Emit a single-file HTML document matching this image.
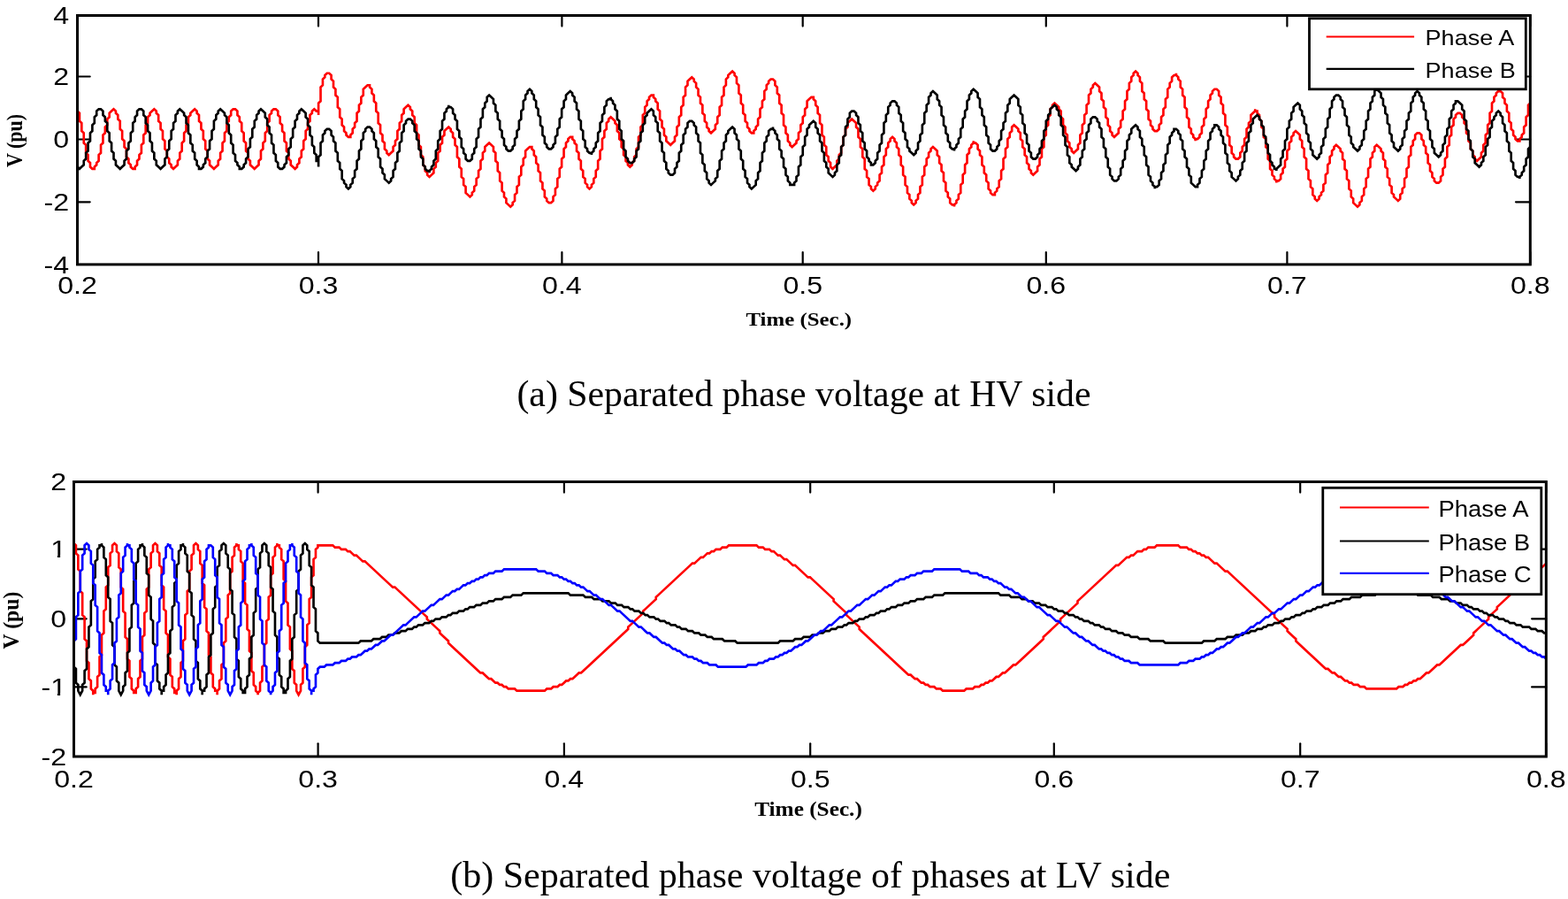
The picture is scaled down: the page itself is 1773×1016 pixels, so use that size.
<!DOCTYPE html>
<html><head><meta charset="utf-8"><title>Separated phase voltage</title><style>html,body{margin:0;padding:0;background:#fff;overflow:hidden}svg{display:block}</style></head><body>
<svg width="1773" height="1016" viewBox="0 0 1773 1016">
<rect width="1773" height="1016" fill="#fff"/>
<g stroke="#000" stroke-width="2.2" stroke-linecap="round"><line x1="87.5" y1="298.9" x2="87.5" y2="285.00"/><line x1="87.5" y1="17.5" x2="87.5" y2="29.60"/><line x1="360.0" y1="298.9" x2="360.0" y2="285.00"/><line x1="360.0" y1="17.5" x2="360.0" y2="29.60"/><line x1="635.4" y1="298.9" x2="635.4" y2="285.00"/><line x1="635.4" y1="17.5" x2="635.4" y2="29.60"/><line x1="907.7" y1="298.9" x2="907.7" y2="285.00"/><line x1="907.7" y1="17.5" x2="907.7" y2="29.60"/><line x1="1182.8" y1="298.9" x2="1182.8" y2="285.00"/><line x1="1182.8" y1="17.5" x2="1182.8" y2="29.60"/><line x1="1455.4" y1="298.9" x2="1455.4" y2="285.00"/><line x1="1455.4" y1="17.5" x2="1455.4" y2="29.60"/><line x1="1730.3" y1="298.9" x2="1730.3" y2="285.00"/><line x1="1730.3" y1="17.5" x2="1730.3" y2="29.60"/><line x1="87.5" y1="86.5" x2="101.70" y2="86.5"/><line x1="1730.3" y1="86.5" x2="1714.00" y2="86.5"/><line x1="87.5" y1="157.5" x2="101.70" y2="157.5"/><line x1="1730.3" y1="157.5" x2="1714.00" y2="157.5"/><line x1="87.5" y1="228.3" x2="101.70" y2="228.3"/><line x1="1730.3" y1="228.3" x2="1714.00" y2="228.3"/></g>
<g stroke="#000" stroke-width="2.2" stroke-linecap="round"><line x1="83.5" y1="855.0" x2="83.5" y2="840.30"/><line x1="83.5" y1="544.5" x2="83.5" y2="556.60"/><line x1="359.6" y1="855.0" x2="359.6" y2="840.30"/><line x1="359.6" y1="544.5" x2="359.6" y2="556.60"/><line x1="637.9" y1="855.0" x2="637.9" y2="840.30"/><line x1="637.9" y1="544.5" x2="637.9" y2="556.60"/><line x1="916.2" y1="855.0" x2="916.2" y2="840.30"/><line x1="916.2" y1="544.5" x2="916.2" y2="556.60"/><line x1="1191.8" y1="855.0" x2="1191.8" y2="840.30"/><line x1="1191.8" y1="544.5" x2="1191.8" y2="556.60"/><line x1="1470.2" y1="855.0" x2="1470.2" y2="840.30"/><line x1="1470.2" y1="544.5" x2="1470.2" y2="556.60"/><line x1="1748.3" y1="855.0" x2="1748.3" y2="840.30"/><line x1="1748.3" y1="544.5" x2="1748.3" y2="556.60"/><line x1="83.5" y1="620.6" x2="97.70" y2="620.6"/><line x1="1748.3" y1="620.6" x2="1732.10" y2="620.6"/><line x1="83.5" y1="699.3" x2="97.70" y2="699.3"/><line x1="1748.3" y1="699.3" x2="1732.10" y2="699.3"/><line x1="83.5" y1="776.4" x2="97.70" y2="776.4"/><line x1="1748.3" y1="776.4" x2="1732.10" y2="776.4"/></g>
<clipPath id="ct"><rect x="86.1" y="17.5" width="1644.20" height="281.40"/></clipPath>
<clipPath id="cb"><rect x="82.1" y="544.5" width="1666.20" height="310.50"/></clipPath>
<g clip-path="url(#ct)" fill="none" stroke-width="2.65" stroke-linejoin="miter" stroke-miterlimit="3">
<path stroke="#ff0000" d="M85.09 114.30 L85.09 116.55 L87.50 118.80 L87.50 125.56 L89.91 127.81 L89.91 136.81 L92.33 139.06 L92.33 148.07 L94.74 150.32 L94.74 161.58 L97.15 163.83 L97.15 172.83 L99.56 175.08 L99.56 181.84 L101.98 184.09 L101.98 188.59 L104.39 190.84 L106.80 190.84 L106.80 188.59 L109.21 186.34 L109.21 184.09 L111.62 181.84 L111.62 175.08 L114.04 172.83 L114.04 163.83 L116.45 161.58 L116.45 152.57 L118.86 150.32 L118.86 143.57 L121.28 141.32 L121.28 134.56 L123.69 132.31 L123.69 127.81 L126.10 125.56 L128.51 123.31 L130.93 125.56 L130.93 127.81 L133.34 130.06 L133.34 134.56 L135.75 136.81 L135.75 145.82 L138.16 148.07 L138.16 157.07 L140.57 159.33 L140.57 166.08 L142.99 168.33 L142.99 177.34 L145.40 179.59 L145.40 184.09 L147.81 186.34 L147.81 188.59 L150.23 190.84 L152.64 190.84 L152.64 188.59 L155.05 186.34 L155.05 181.84 L157.46 179.59 L157.46 175.08 L159.88 172.83 L159.88 163.83 L162.29 161.58 L162.29 152.57 L164.70 150.32 L164.70 141.32 L167.11 139.06 L167.11 132.31 L169.53 130.06 L169.53 127.81 L171.94 125.56 L174.35 123.31 L176.76 125.56 L176.76 127.81 L179.18 130.06 L179.18 136.81 L181.59 139.06 L181.59 145.82 L184.00 148.07 L184.00 157.07 L186.41 159.33 L186.41 168.33 L188.82 170.58 L188.82 177.34 L191.24 179.59 L191.24 184.09 L193.65 186.34 L193.65 188.59 L196.06 190.84 L198.48 188.59 L200.89 186.34 L200.89 181.84 L203.30 179.59 L203.30 172.83 L205.71 170.58 L205.71 161.58 L208.12 159.33 L208.12 150.32 L210.54 148.07 L210.54 141.32 L212.95 139.06 L212.95 132.31 L215.36 130.06 L215.36 127.81 L217.78 125.56 L220.19 123.31 L222.60 125.56 L222.60 127.81 L225.01 130.06 L225.01 136.81 L227.43 139.06 L227.43 145.82 L229.84 148.07 L229.84 157.07 L232.25 159.33 L232.25 168.33 L234.66 170.58 L234.66 179.59 L237.07 181.84 L237.07 186.34 L239.49 188.59 L241.90 190.84 L244.31 188.59 L246.73 186.34 L246.73 181.84 L249.14 179.59 L249.14 172.83 L251.55 170.58 L251.55 161.58 L253.96 159.33 L253.96 150.32 L256.38 148.07 L256.38 139.06 L258.79 136.81 L258.79 132.31 L261.20 130.06 L261.20 125.56 L263.61 123.31 L266.03 123.31 L268.44 125.56 L268.44 130.06 L270.85 132.31 L270.85 136.81 L273.26 139.06 L273.26 148.07 L275.68 150.32 L275.68 159.33 L278.09 161.58 L278.09 170.58 L280.50 172.83 L280.50 179.59 L282.91 181.84 L282.91 186.34 L285.32 188.59 L287.74 190.84 L290.15 188.59 L292.56 186.34 L292.56 181.84 L294.98 179.59 L294.98 170.58 L297.39 168.33 L297.39 161.58 L299.80 159.33 L299.80 150.32 L302.21 148.07 L302.21 139.06 L304.62 136.81 L304.62 130.06 L307.04 127.81 L307.04 125.56 L309.45 123.31 L311.86 123.31 L314.28 125.56 L314.28 130.06 L316.69 132.31 L316.69 139.06 L319.10 141.32 L319.10 148.07 L321.51 150.32 L321.51 159.33 L323.93 161.58 L323.93 170.58 L326.34 172.83 L326.34 179.59 L328.75 181.84 L328.75 186.34 L331.16 188.59 L333.57 190.84 L335.99 188.59 L335.99 186.34 L338.40 184.09 L338.40 179.59 L340.81 177.34 L340.81 170.58 L343.23 168.33 L343.23 159.33 L345.64 157.07 L345.64 148.07 L348.05 145.82 L348.05 139.06 L350.46 136.81 L350.46 130.06 L352.88 127.81 L352.88 125.56 L355.29 123.31 L357.70 125.56 L360.11 125.56 L360.11 130.06 L360.11 116.55 L362.52 114.30 L362.52 98.54 L364.94 96.29 L364.94 89.54 L367.35 87.29 L367.35 85.04 L369.76 82.78 L372.18 82.78 L374.59 85.04 L374.59 89.54 L377.00 91.79 L377.00 98.54 L379.41 100.79 L379.41 107.55 L381.82 109.80 L381.82 121.06 L384.24 123.31 L384.24 132.31 L386.65 134.56 L386.65 141.32 L389.06 143.57 L389.06 148.07 L391.48 150.32 L391.48 152.57 L393.89 154.82 L396.30 154.82 L396.30 152.57 L398.71 150.32 L398.71 145.82 L401.12 143.57 L401.12 139.06 L403.54 136.81 L403.54 127.81 L405.95 125.56 L405.95 118.80 L408.36 116.55 L408.36 109.80 L410.77 107.55 L410.77 100.79 L413.19 98.54 L415.60 96.29 L418.01 96.29 L418.01 98.54 L420.43 100.79 L420.43 105.30 L422.84 107.55 L422.84 114.30 L425.25 116.55 L425.25 125.56 L427.66 127.81 L427.66 139.06 L430.07 141.32 L430.07 150.32 L432.49 152.57 L432.49 159.33 L434.90 161.58 L434.90 168.33 L437.31 170.58 L437.31 172.83 L439.73 175.08 L442.14 172.83 L444.55 170.58 L444.55 166.08 L446.96 163.83 L446.96 159.33 L449.38 157.07 L449.38 148.07 L451.79 145.82 L451.79 139.06 L454.20 136.81 L454.20 130.06 L456.61 127.81 L456.61 123.31 L459.02 121.06 L461.44 118.80 L463.85 121.06 L463.85 123.31 L466.26 125.56 L466.26 130.06 L468.68 132.31 L468.68 139.06 L471.09 141.32 L471.09 150.32 L473.50 152.57 L473.50 163.83 L475.91 166.08 L475.91 175.08 L478.32 177.34 L478.32 186.34 L480.74 188.59 L480.74 193.09 L483.15 195.34 L483.15 197.60 L485.56 199.85 L487.98 197.60 L490.39 195.34 L490.39 190.84 L492.80 188.59 L492.80 184.09 L495.21 181.84 L495.21 172.83 L497.62 170.58 L497.62 163.83 L500.04 161.58 L500.04 154.82 L502.45 152.57 L502.45 148.07 L504.86 145.82 L507.27 143.57 L509.69 145.82 L509.69 148.07 L512.10 150.32 L512.10 154.82 L514.51 157.07 L514.51 163.83 L516.93 166.08 L516.93 177.34 L519.34 179.59 L519.34 188.59 L521.75 190.84 L521.75 199.85 L524.16 202.10 L524.16 208.85 L526.58 211.10 L526.58 217.86 L528.99 220.11 L531.40 222.36 L533.81 220.11 L533.81 217.86 L536.23 215.61 L536.23 211.10 L538.64 208.85 L538.64 202.10 L541.05 199.85 L541.05 193.09 L543.46 190.84 L543.46 181.84 L545.88 179.59 L545.88 172.83 L548.29 170.58 L548.29 166.08 L550.70 163.83 L553.11 161.58 L555.53 163.83 L557.94 166.08 L557.94 170.58 L560.35 172.83 L560.35 181.84 L562.76 184.09 L562.76 193.09 L565.18 195.34 L565.18 204.35 L567.59 206.60 L567.59 215.61 L570.00 217.86 L570.00 222.36 L572.41 224.61 L572.41 229.11 L574.83 231.36 L577.24 233.62 L579.65 231.36 L579.65 229.11 L582.06 226.86 L582.06 220.11 L584.48 217.86 L584.48 211.10 L586.89 208.85 L586.89 199.85 L589.30 197.60 L589.30 188.59 L591.71 186.34 L591.71 179.59 L594.12 177.34 L594.12 170.58 L596.54 168.33 L598.95 166.08 L601.36 166.08 L601.36 168.33 L603.78 170.58 L603.78 175.08 L606.19 177.34 L606.19 184.09 L608.60 186.34 L608.60 193.09 L611.01 195.34 L611.01 204.35 L613.43 206.60 L613.43 213.35 L615.84 215.61 L615.84 222.36 L618.25 224.61 L618.25 226.86 L620.66 229.11 L623.08 229.11 L625.49 226.86 L625.49 222.36 L627.90 220.11 L627.90 213.35 L630.31 211.10 L630.31 202.10 L632.73 199.85 L632.73 190.84 L635.14 188.59 L635.14 179.59 L637.55 177.34 L637.55 168.33 L639.96 166.08 L639.96 161.58 L642.38 159.33 L642.38 157.07 L644.79 154.82 L647.20 154.82 L647.20 157.07 L649.61 159.33 L649.61 161.58 L652.03 163.83 L652.03 170.58 L654.44 172.83 L654.44 179.59 L656.85 181.84 L656.85 190.84 L659.26 193.09 L659.26 199.85 L661.68 202.10 L661.68 206.60 L664.09 208.85 L664.09 211.10 L666.50 213.35 L668.91 211.10 L668.91 208.85 L671.33 206.60 L671.33 202.10 L673.74 199.85 L673.74 193.09 L676.15 190.84 L676.15 181.84 L678.56 179.59 L678.56 170.58 L680.98 168.33 L680.98 157.07 L683.39 154.82 L683.39 148.07 L685.80 145.82 L685.80 139.06 L688.21 136.81 L688.21 134.56 L690.63 132.31 L693.04 134.56 L695.45 136.81 L695.45 139.06 L697.86 141.32 L697.86 148.07 L700.28 150.32 L700.28 157.07 L702.69 159.33 L702.69 166.08 L705.10 168.33 L705.10 175.08 L707.51 177.34 L707.51 181.84 L709.93 184.09 L709.93 186.34 L712.34 188.59 L714.75 186.34 L714.75 184.09 L717.16 181.84 L717.16 177.34 L719.58 175.08 L719.58 168.33 L721.99 166.08 L721.99 154.82 L724.40 152.57 L724.40 143.57 L726.81 141.32 L726.81 130.06 L729.23 127.81 L729.23 121.06 L731.64 118.80 L731.64 114.30 L734.05 112.05 L734.05 109.80 L736.46 107.55 L738.88 107.55 L738.88 109.80 L741.29 112.05 L741.29 114.30 L743.70 116.55 L743.70 123.31 L746.11 125.56 L746.11 134.56 L748.53 136.81 L748.53 143.57 L750.94 145.82 L750.94 152.57 L753.35 154.82 L753.35 159.33 L755.76 161.58 L758.18 163.83 L760.59 161.58 L763.00 159.33 L763.00 154.82 L765.41 152.57 L765.41 143.57 L767.83 141.32 L767.83 132.31 L770.24 130.06 L770.24 121.06 L772.65 118.80 L772.65 109.80 L775.06 107.55 L775.06 98.54 L777.48 96.29 L777.48 91.79 L779.89 89.54 L782.30 87.29 L784.71 89.54 L784.71 91.79 L787.13 94.04 L787.13 98.54 L789.54 100.79 L789.54 107.55 L791.95 109.80 L791.95 116.55 L794.36 118.80 L794.36 127.81 L796.78 130.06 L796.78 136.81 L799.19 139.06 L799.19 143.57 L801.60 145.82 L801.60 148.07 L804.01 150.32 L806.43 148.07 L808.84 145.82 L808.84 141.32 L811.25 139.06 L811.25 132.31 L813.66 130.06 L813.66 121.06 L816.08 118.80 L816.08 109.80 L818.49 107.55 L818.49 98.54 L820.90 96.29 L820.90 89.54 L823.31 87.29 L823.31 85.04 L825.73 82.78 L828.14 80.53 L830.55 82.78 L830.55 85.04 L832.96 87.29 L832.96 94.04 L835.38 96.29 L835.38 105.30 L837.79 107.55 L837.79 116.55 L840.20 118.80 L840.20 127.81 L842.61 130.06 L842.61 136.81 L845.03 139.06 L845.03 143.57 L847.44 145.82 L847.44 148.07 L849.85 150.32 L852.26 150.32 L852.26 148.07 L854.68 145.82 L854.68 143.57 L857.09 141.32 L857.09 134.56 L859.50 132.31 L859.50 123.31 L861.91 121.06 L861.91 114.30 L864.33 112.05 L864.33 103.05 L866.74 100.79 L866.74 96.29 L869.15 94.04 L869.15 91.79 L871.56 89.54 L873.98 89.54 L876.39 91.79 L876.39 96.29 L878.80 98.54 L878.80 105.30 L881.21 107.55 L881.21 116.55 L883.63 118.80 L883.63 127.81 L886.04 130.06 L886.04 141.32 L888.45 143.57 L888.45 150.32 L890.86 152.57 L890.86 159.33 L893.28 161.58 L893.28 163.83 L895.69 166.08 L898.10 163.83 L900.51 161.58 L900.51 159.33 L902.93 157.07 L902.93 150.32 L905.34 148.07 L905.34 141.32 L907.75 139.06 L907.75 132.31 L910.16 130.06 L910.16 123.31 L912.58 121.06 L912.58 114.30 L914.99 112.05 L917.40 109.80 L919.81 109.80 L919.81 112.05 L922.23 114.30 L922.23 118.80 L924.64 121.06 L924.64 127.81 L927.05 130.06 L927.05 139.06 L929.46 141.32 L929.46 152.57 L931.88 154.82 L931.88 163.83 L934.29 166.08 L934.29 175.08 L936.70 177.34 L936.70 181.84 L939.11 184.09 L939.11 188.59 L941.53 190.84 L943.94 188.59 L946.35 186.34 L946.35 181.84 L948.76 179.59 L948.76 175.08 L951.18 172.83 L951.18 166.08 L953.59 163.83 L953.59 154.82 L956.00 152.57 L956.00 145.82 L958.41 143.57 L958.41 139.06 L960.83 136.81 L963.24 134.56 L965.65 136.81 L968.06 139.06 L968.06 143.57 L970.48 145.82 L970.48 154.82 L972.89 157.07 L972.89 166.08 L975.30 168.33 L975.30 177.34 L977.71 179.59 L977.71 190.84 L980.13 193.09 L980.13 199.85 L982.54 202.10 L982.54 208.85 L984.95 211.10 L984.95 213.35 L987.36 215.61 L989.78 213.35 L989.78 211.10 L992.19 208.85 L992.19 206.60 L994.60 204.35 L994.60 197.60 L997.01 195.34 L997.01 188.59 L999.43 186.34 L999.43 177.34 L1001.84 175.08 L1001.84 168.33 L1004.25 166.08 L1004.25 161.58 L1006.66 159.33 L1006.66 157.07 L1009.08 154.82 L1011.49 157.07 L1011.49 159.33 L1013.90 161.58 L1013.90 166.08 L1016.31 168.33 L1016.31 175.08 L1018.73 177.34 L1018.73 186.34 L1021.14 188.59 L1021.14 197.60 L1023.55 199.85 L1023.55 208.85 L1025.96 211.10 L1025.96 217.86 L1028.38 220.11 L1028.38 224.61 L1030.79 226.86 L1030.79 229.11 L1033.20 231.36 L1035.61 229.11 L1035.61 226.86 L1038.03 224.61 L1038.03 220.11 L1040.44 217.86 L1040.44 211.10 L1042.85 208.85 L1042.85 199.85 L1045.26 197.60 L1045.26 188.59 L1047.67 186.34 L1047.67 179.59 L1050.09 177.34 L1050.09 172.83 L1052.50 170.58 L1052.50 168.33 L1054.91 166.08 L1057.33 168.33 L1059.74 170.58 L1059.74 175.08 L1062.15 177.34 L1062.15 184.09 L1064.56 186.34 L1064.56 193.09 L1066.98 195.34 L1066.98 204.35 L1069.39 206.60 L1069.39 215.61 L1071.80 217.86 L1071.80 222.36 L1074.21 224.61 L1074.21 229.11 L1076.62 231.36 L1079.04 231.36 L1079.04 233.62 L1079.04 231.36 L1081.45 229.11 L1081.45 226.86 L1083.86 224.61 L1083.86 220.11 L1086.28 217.86 L1086.28 208.85 L1088.69 206.60 L1088.69 197.60 L1091.10 195.34 L1091.10 186.34 L1093.51 184.09 L1093.51 175.08 L1095.92 172.83 L1095.92 168.33 L1098.34 166.08 L1098.34 163.83 L1100.75 161.58 L1100.75 159.33 L1100.75 161.58 L1103.16 161.58 L1105.58 163.83 L1105.58 168.33 L1107.99 170.58 L1107.99 175.08 L1110.40 177.34 L1110.40 186.34 L1112.81 188.59 L1112.81 195.34 L1115.23 197.60 L1115.23 204.35 L1117.64 206.60 L1117.64 213.35 L1120.05 215.61 L1120.05 217.86 L1122.46 220.11 L1124.88 220.11 L1124.88 217.86 L1127.29 215.61 L1127.29 213.35 L1129.70 211.10 L1129.70 204.35 L1132.11 202.10 L1132.11 193.09 L1134.53 190.84 L1134.53 179.59 L1136.94 177.34 L1136.94 168.33 L1139.35 166.08 L1139.35 157.07 L1141.76 154.82 L1141.76 150.32 L1144.18 148.07 L1144.18 143.57 L1146.59 141.32 L1149.00 143.57 L1151.41 145.82 L1151.41 148.07 L1153.83 150.32 L1153.83 157.07 L1156.24 159.33 L1156.24 166.08 L1158.65 168.33 L1158.65 175.08 L1161.06 177.34 L1161.06 184.09 L1163.48 186.34 L1163.48 190.84 L1165.89 193.09 L1165.89 195.34 L1168.30 197.60 L1170.71 195.34 L1173.12 193.09 L1173.12 188.59 L1175.54 186.34 L1175.54 179.59 L1177.95 177.34 L1177.95 168.33 L1180.36 166.08 L1180.36 154.82 L1182.78 152.57 L1182.78 143.57 L1185.19 141.32 L1185.19 132.31 L1187.60 130.06 L1187.60 123.31 L1190.01 121.06 L1190.01 118.80 L1192.43 116.55 L1194.84 118.80 L1197.25 121.06 L1197.25 123.31 L1199.66 125.56 L1199.66 132.31 L1202.08 134.56 L1202.08 141.32 L1204.49 143.57 L1204.49 150.32 L1206.90 152.57 L1206.90 159.33 L1209.31 161.58 L1209.31 166.08 L1211.73 168.33 L1211.73 170.58 L1214.14 172.83 L1216.55 170.58 L1218.96 168.33 L1218.96 163.83 L1221.38 161.58 L1221.38 152.57 L1223.79 150.32 L1223.79 141.32 L1226.20 139.06 L1226.20 130.06 L1228.61 127.81 L1228.61 118.80 L1231.03 116.55 L1231.03 107.55 L1233.44 105.30 L1233.44 100.79 L1235.85 98.54 L1235.85 96.29 L1238.26 94.04 L1240.68 96.29 L1243.09 98.54 L1243.09 103.05 L1245.50 105.30 L1245.50 112.05 L1247.91 114.30 L1247.91 121.06 L1250.33 123.31 L1250.33 132.31 L1252.74 134.56 L1252.74 141.32 L1255.15 143.57 L1255.15 148.07 L1257.56 150.32 L1257.56 152.57 L1259.98 154.82 L1262.39 152.57 L1264.80 150.32 L1264.80 145.82 L1267.21 143.57 L1267.21 136.81 L1269.62 134.56 L1269.62 125.56 L1272.04 123.31 L1272.04 114.30 L1274.45 112.05 L1274.45 103.05 L1276.86 100.79 L1276.86 94.04 L1279.28 91.79 L1279.28 87.29 L1281.69 85.04 L1281.69 82.78 L1284.10 80.53 L1286.51 82.78 L1286.51 85.04 L1288.93 87.29 L1288.93 91.79 L1291.34 94.04 L1291.34 103.05 L1293.75 105.30 L1293.75 112.05 L1296.16 114.30 L1296.16 123.31 L1298.58 125.56 L1298.58 134.56 L1300.99 136.81 L1300.99 141.32 L1303.40 143.57 L1303.40 145.82 L1305.81 148.07 L1308.23 148.07 L1310.64 145.82 L1310.64 141.32 L1313.05 139.06 L1313.05 132.31 L1315.46 130.06 L1315.46 123.31 L1317.88 121.06 L1317.88 112.05 L1320.29 109.80 L1320.29 100.79 L1322.70 98.54 L1322.70 94.04 L1325.11 91.79 L1325.11 87.29 L1327.53 85.04 L1329.94 85.04 L1329.94 82.78 L1329.94 85.04 L1332.35 87.29 L1332.35 89.54 L1334.76 91.79 L1334.76 98.54 L1337.18 100.79 L1337.18 107.55 L1339.59 109.80 L1339.59 121.06 L1342.00 123.31 L1342.00 132.31 L1344.41 134.56 L1344.41 143.57 L1346.83 145.82 L1346.83 150.32 L1349.24 152.57 L1349.24 154.82 L1351.65 157.07 L1351.65 159.33 L1351.65 157.07 L1354.06 157.07 L1356.48 154.82 L1356.48 152.57 L1358.89 150.32 L1358.89 143.57 L1361.30 141.32 L1361.30 134.56 L1363.71 132.31 L1363.71 123.31 L1366.12 121.06 L1366.12 114.30 L1368.54 112.05 L1368.54 107.55 L1370.95 105.30 L1370.95 103.05 L1373.36 100.79 L1375.78 100.79 L1378.19 103.05 L1378.19 107.55 L1380.60 109.80 L1380.60 116.55 L1383.01 118.80 L1383.01 127.81 L1385.43 130.06 L1385.43 141.32 L1387.84 143.57 L1387.84 152.57 L1390.25 154.82 L1390.25 163.83 L1392.66 166.08 L1392.66 172.83 L1395.08 175.08 L1395.08 177.34 L1397.49 179.59 L1399.90 179.59 L1402.31 177.34 L1402.31 172.83 L1404.73 170.58 L1404.73 166.08 L1407.14 163.83 L1407.14 157.07 L1409.55 154.82 L1409.55 145.82 L1411.96 143.57 L1411.96 139.06 L1414.38 136.81 L1414.38 130.06 L1416.79 127.81 L1419.20 125.56 L1419.20 123.31 L1419.20 125.56 L1421.61 125.56 L1421.61 127.81 L1424.03 130.06 L1424.03 134.56 L1426.44 136.81 L1426.44 143.57 L1428.85 145.82 L1428.85 154.82 L1431.26 157.07 L1431.26 166.08 L1433.68 168.33 L1433.68 179.59 L1436.09 181.84 L1436.09 190.84 L1438.50 193.09 L1438.50 197.60 L1440.91 199.85 L1440.91 202.10 L1443.33 204.35 L1443.33 206.60 L1443.33 204.35 L1445.74 204.35 L1448.15 202.10 L1448.15 197.60 L1450.56 195.34 L1450.56 190.84 L1452.98 188.59 L1452.98 181.84 L1455.39 179.59 L1455.39 170.58 L1457.80 168.33 L1457.80 161.58 L1460.21 159.33 L1460.21 154.82 L1462.62 152.57 L1462.62 150.32 L1465.04 148.07 L1467.45 150.32 L1469.86 152.57 L1469.86 157.07 L1472.28 159.33 L1472.28 166.08 L1474.69 168.33 L1474.69 177.34 L1477.10 179.59 L1477.10 190.84 L1479.51 193.09 L1479.51 202.10 L1481.93 204.35 L1481.93 211.10 L1484.34 213.35 L1484.34 220.11 L1486.75 222.36 L1486.75 224.61 L1489.16 226.86 L1491.58 224.61 L1491.58 222.36 L1493.99 220.11 L1493.99 217.86 L1496.40 215.61 L1496.40 208.85 L1498.81 206.60 L1498.81 197.60 L1501.23 195.34 L1501.23 186.34 L1503.64 184.09 L1503.64 177.34 L1506.05 175.08 L1506.05 170.58 L1508.46 168.33 L1508.46 166.08 L1510.88 163.83 L1513.29 166.08 L1515.70 168.33 L1515.70 170.58 L1518.11 172.83 L1518.11 179.59 L1520.53 181.84 L1520.53 190.84 L1522.94 193.09 L1522.94 202.10 L1525.35 204.35 L1525.35 213.35 L1527.76 215.61 L1527.76 222.36 L1530.18 224.61 L1530.18 229.11 L1532.59 231.36 L1535.00 233.62 L1537.41 231.36 L1537.41 229.11 L1539.83 226.86 L1539.83 222.36 L1542.24 220.11 L1542.24 213.35 L1544.65 211.10 L1544.65 202.10 L1547.06 199.85 L1547.06 190.84 L1549.48 188.59 L1549.48 179.59 L1551.89 177.34 L1551.89 172.83 L1554.30 170.58 L1554.30 166.08 L1556.71 163.83 L1559.12 166.08 L1561.54 168.33 L1561.54 170.58 L1563.95 172.83 L1563.95 179.59 L1566.36 181.84 L1566.36 188.59 L1568.78 190.84 L1568.78 199.85 L1571.19 202.10 L1571.19 208.85 L1573.60 211.10 L1573.60 217.86 L1576.01 220.11 L1576.01 222.36 L1578.43 224.61 L1580.84 226.86 L1583.25 224.61 L1583.25 220.11 L1585.66 217.86 L1585.66 213.35 L1588.08 211.10 L1588.08 202.10 L1590.49 199.85 L1590.49 190.84 L1592.90 188.59 L1592.90 177.34 L1595.31 175.08 L1595.31 166.08 L1597.73 163.83 L1597.73 159.33 L1600.14 157.07 L1600.14 152.57 L1602.55 150.32 L1604.96 150.32 L1607.38 152.57 L1607.38 157.07 L1609.79 159.33 L1609.79 163.83 L1612.20 166.08 L1612.20 172.83 L1614.61 175.08 L1614.61 184.09 L1617.03 186.34 L1617.03 193.09 L1619.44 195.34 L1619.44 199.85 L1621.85 202.10 L1621.85 204.35 L1624.26 206.60 L1626.68 206.60 L1629.09 204.35 L1629.09 199.85 L1631.50 197.60 L1631.50 190.84 L1633.91 188.59 L1633.91 179.59 L1636.33 177.34 L1636.33 166.08 L1638.74 163.83 L1638.74 154.82 L1641.15 152.57 L1641.15 143.57 L1643.56 141.32 L1643.56 134.56 L1645.98 132.31 L1645.98 130.06 L1648.39 127.81 L1650.80 127.81 L1653.21 130.06 L1653.21 132.31 L1655.62 134.56 L1655.62 139.06 L1658.04 141.32 L1658.04 150.32 L1660.45 152.57 L1660.45 159.33 L1662.86 161.58 L1662.86 168.33 L1665.28 170.58 L1665.28 175.08 L1667.69 177.34 L1667.69 179.59 L1670.10 181.84 L1672.51 179.59 L1674.93 177.34 L1674.93 172.83 L1677.34 170.58 L1677.34 163.83 L1679.75 161.58 L1679.75 152.57 L1682.16 150.32 L1682.16 141.32 L1684.58 139.06 L1684.58 127.81 L1686.99 125.56 L1686.99 116.55 L1689.40 114.30 L1689.40 109.80 L1691.81 107.55 L1691.81 105.30 L1694.23 103.05 L1694.23 100.79 L1694.23 103.05 L1696.64 103.05 L1699.05 105.30 L1699.05 109.80 L1701.46 112.05 L1701.46 116.55 L1703.88 118.80 L1703.88 125.56 L1706.29 127.81 L1706.29 136.81 L1708.70 139.06 L1708.70 145.82 L1711.11 148.07 L1711.11 152.57 L1713.53 154.82 L1713.53 157.07 L1715.94 159.33 L1718.35 159.33 L1718.35 157.07 L1720.76 154.82 L1720.76 152.57 L1723.18 150.32 L1723.18 143.57 L1725.59 141.32 L1725.59 132.31 L1728.00 130.06 L1728.00 118.80 L1730.41 116.55 L1730.41 107.55 L1732.83 105.30 L1732.83 98.54"/>
<path stroke="#000" d="M85.09 179.59 L85.09 186.34 L87.50 188.59 L89.91 190.84 L92.33 188.59 L94.74 186.34 L94.74 181.84 L97.15 179.59 L97.15 172.83 L99.56 170.58 L99.56 161.58 L101.98 159.33 L101.98 150.32 L104.39 148.07 L104.39 141.32 L106.80 139.06 L106.80 132.31 L109.21 130.06 L109.21 125.56 L111.62 123.31 L114.04 123.31 L116.45 125.56 L116.45 130.06 L118.86 132.31 L118.86 136.81 L121.28 139.06 L121.28 148.07 L123.69 150.32 L123.69 159.33 L126.10 161.58 L126.10 170.58 L128.51 172.83 L128.51 179.59 L130.93 181.84 L130.93 186.34 L133.34 188.59 L135.75 190.84 L138.16 188.59 L140.57 186.34 L140.57 181.84 L142.99 179.59 L142.99 170.58 L145.40 168.33 L145.40 161.58 L147.81 159.33 L147.81 150.32 L150.23 148.07 L150.23 139.06 L152.64 136.81 L152.64 132.31 L155.05 130.06 L155.05 125.56 L157.46 123.31 L159.88 123.31 L162.29 125.56 L162.29 130.06 L164.70 132.31 L164.70 139.06 L167.11 141.32 L167.11 148.07 L169.53 150.32 L169.53 159.33 L171.94 161.58 L171.94 170.58 L174.35 172.83 L174.35 179.59 L176.76 181.84 L176.76 186.34 L179.18 188.59 L181.59 190.84 L184.00 188.59 L186.41 186.34 L186.41 179.59 L188.82 177.34 L188.82 170.58 L191.24 168.33 L191.24 159.33 L193.65 157.07 L193.65 148.07 L196.06 145.82 L196.06 139.06 L198.48 136.81 L198.48 130.06 L200.89 127.81 L200.89 125.56 L203.30 123.31 L205.71 125.56 L208.12 127.81 L208.12 130.06 L210.54 132.31 L210.54 139.06 L212.95 141.32 L212.95 150.32 L215.36 152.57 L215.36 161.58 L217.78 163.83 L217.78 170.58 L220.19 172.83 L220.19 179.59 L222.60 181.84 L222.60 186.34 L225.01 188.59 L225.01 190.84 L227.43 190.84 L229.84 188.59 L229.84 186.34 L232.25 184.09 L232.25 179.59 L234.66 177.34 L234.66 170.58 L237.07 168.33 L237.07 159.33 L239.49 157.07 L239.49 148.07 L241.90 145.82 L241.90 136.81 L244.31 134.56 L244.31 130.06 L246.73 127.81 L246.73 125.56 L249.14 123.31 L251.55 125.56 L253.96 127.81 L253.96 130.06 L256.38 132.31 L256.38 139.06 L258.79 141.32 L258.79 150.32 L261.20 152.57 L261.20 161.58 L263.61 163.83 L263.61 172.83 L266.03 175.08 L266.03 181.84 L268.44 184.09 L268.44 186.34 L270.85 188.59 L270.85 190.84 L273.26 190.84 L275.68 188.59 L275.68 186.34 L278.09 184.09 L278.09 179.59 L280.50 177.34 L280.50 168.33 L282.91 166.08 L282.91 157.07 L285.32 154.82 L285.32 145.82 L287.74 143.57 L287.74 136.81 L290.15 134.56 L290.15 130.06 L292.56 127.81 L292.56 125.56 L294.98 123.31 L297.39 125.56 L299.80 127.81 L299.80 132.31 L302.21 134.56 L302.21 141.32 L304.62 143.57 L304.62 150.32 L307.04 152.57 L307.04 161.58 L309.45 163.83 L309.45 172.83 L311.86 175.08 L311.86 181.84 L314.28 184.09 L314.28 188.59 L316.69 190.84 L319.10 190.84 L321.51 188.59 L321.51 186.34 L323.93 184.09 L323.93 177.34 L326.34 175.08 L326.34 168.33 L328.75 166.08 L328.75 157.07 L331.16 154.82 L331.16 145.82 L333.57 143.57 L333.57 136.81 L335.99 134.56 L335.99 130.06 L338.40 127.81 L338.40 125.56 L340.81 123.31 L343.23 125.56 L345.64 127.81 L345.64 132.31 L348.05 134.56 L348.05 141.32 L350.46 143.57 L350.46 152.57 L352.88 154.82 L352.88 163.83 L355.29 166.08 L355.29 172.83 L357.70 175.08 L357.70 181.84 L360.11 181.84 L360.11 188.59 L360.11 177.34 L362.52 175.08 L362.52 161.58 L364.94 159.33 L364.94 152.57 L367.35 150.32 L367.35 148.07 L369.76 145.82 L372.18 145.82 L374.59 148.07 L374.59 152.57 L377.00 154.82 L377.00 159.33 L379.41 161.58 L379.41 170.58 L381.82 172.83 L381.82 181.84 L384.24 184.09 L384.24 190.84 L386.65 193.09 L386.65 202.10 L389.06 204.35 L389.06 206.60 L391.48 208.85 L391.48 211.10 L393.89 213.35 L396.30 211.10 L396.30 208.85 L398.71 206.60 L398.71 202.10 L401.12 199.85 L401.12 193.09 L403.54 190.84 L403.54 181.84 L405.95 179.59 L405.95 170.58 L408.36 168.33 L408.36 159.33 L410.77 157.07 L410.77 150.32 L413.19 148.07 L413.19 145.82 L415.60 143.57 L418.01 143.57 L420.43 145.82 L420.43 148.07 L422.84 150.32 L422.84 157.07 L425.25 159.33 L425.25 166.08 L427.66 168.33 L427.66 177.34 L430.07 179.59 L430.07 188.59 L432.49 190.84 L432.49 195.34 L434.90 197.60 L434.90 202.10 L437.31 204.35 L439.73 206.60 L442.14 204.35 L442.14 202.10 L444.55 199.85 L444.55 193.09 L446.96 190.84 L446.96 184.09 L449.38 181.84 L449.38 172.83 L451.79 170.58 L451.79 161.58 L454.20 159.33 L454.20 150.32 L456.61 148.07 L456.61 141.32 L459.02 139.06 L459.02 136.81 L461.44 134.56 L463.85 134.56 L466.26 136.81 L466.26 139.06 L468.68 141.32 L468.68 148.07 L471.09 150.32 L471.09 157.07 L473.50 159.33 L473.50 168.33 L475.91 170.58 L475.91 177.34 L478.32 179.59 L478.32 186.34 L480.74 188.59 L480.74 190.84 L483.15 193.09 L485.56 193.09 L485.56 195.34 L485.56 193.09 L487.98 190.84 L487.98 188.59 L490.39 186.34 L490.39 181.84 L492.80 179.59 L492.80 170.58 L495.21 168.33 L495.21 159.33 L497.62 157.07 L497.62 148.07 L500.04 145.82 L500.04 136.81 L502.45 134.56 L502.45 127.81 L504.86 125.56 L504.86 123.31 L507.27 121.06 L507.27 118.80 L507.27 121.06 L509.69 121.06 L512.10 123.31 L512.10 127.81 L514.51 130.06 L514.51 134.56 L516.93 136.81 L516.93 145.82 L519.34 148.07 L519.34 154.82 L521.75 157.07 L521.75 166.08 L524.16 168.33 L524.16 172.83 L526.58 175.08 L526.58 179.59 L528.99 181.84 L531.40 181.84 L533.81 179.59 L533.81 175.08 L536.23 172.83 L536.23 168.33 L538.64 166.08 L538.64 157.07 L541.05 154.82 L541.05 145.82 L543.46 143.57 L543.46 134.56 L545.88 132.31 L545.88 123.31 L548.29 121.06 L548.29 116.55 L550.70 114.30 L550.70 109.80 L553.11 107.55 L555.53 109.80 L557.94 112.05 L557.94 116.55 L560.35 118.80 L560.35 125.56 L562.76 127.81 L562.76 134.56 L565.18 136.81 L565.18 145.82 L567.59 148.07 L567.59 154.82 L570.00 157.07 L570.00 163.83 L572.41 166.08 L572.41 168.33 L574.83 170.58 L577.24 170.58 L579.65 168.33 L579.65 166.08 L582.06 163.83 L582.06 157.07 L584.48 154.82 L584.48 148.07 L586.89 145.82 L586.89 136.81 L589.30 134.56 L589.30 125.56 L591.71 123.31 L591.71 114.30 L594.12 112.05 L594.12 107.55 L596.54 105.30 L596.54 103.05 L598.95 100.79 L601.36 103.05 L601.36 105.30 L603.78 107.55 L603.78 112.05 L606.19 114.30 L606.19 121.06 L608.60 123.31 L608.60 130.06 L611.01 132.31 L611.01 141.32 L613.43 143.57 L613.43 152.57 L615.84 154.82 L615.84 161.58 L618.25 163.83 L618.25 166.08 L620.66 168.33 L623.08 168.33 L625.49 166.08 L625.49 163.83 L627.90 161.58 L627.90 154.82 L630.31 152.57 L630.31 145.82 L632.73 143.57 L632.73 134.56 L635.14 132.31 L635.14 123.31 L637.55 121.06 L637.55 114.30 L639.96 112.05 L639.96 107.55 L642.38 105.30 L644.79 103.05 L647.20 105.30 L647.20 107.55 L649.61 109.80 L649.61 114.30 L652.03 116.55 L652.03 123.31 L654.44 125.56 L654.44 134.56 L656.85 136.81 L656.85 145.82 L659.26 148.07 L659.26 157.07 L661.68 159.33 L661.68 166.08 L664.09 168.33 L664.09 170.58 L666.50 172.83 L668.91 172.83 L668.91 175.08 L668.91 172.83 L671.33 170.58 L671.33 168.33 L673.74 166.08 L673.74 161.58 L676.15 159.33 L676.15 150.32 L678.56 148.07 L678.56 139.06 L680.98 136.81 L680.98 130.06 L683.39 127.81 L683.39 121.06 L685.80 118.80 L685.80 114.30 L688.21 112.05 L690.63 112.05 L690.63 109.80 L690.63 112.05 L693.04 114.30 L693.04 116.55 L695.45 118.80 L695.45 123.31 L697.86 125.56 L697.86 134.56 L700.28 136.81 L700.28 145.82 L702.69 148.07 L702.69 157.07 L705.10 159.33 L705.10 168.33 L707.51 170.58 L707.51 177.34 L709.93 179.59 L709.93 181.84 L712.34 184.09 L714.75 184.09 L717.16 181.84 L717.16 179.59 L719.58 177.34 L719.58 170.58 L721.99 168.33 L721.99 161.58 L724.40 159.33 L724.40 150.32 L726.81 148.07 L726.81 141.32 L729.23 139.06 L729.23 132.31 L731.64 130.06 L731.64 127.81 L734.05 125.56 L736.46 123.31 L738.88 125.56 L738.88 130.06 L741.29 132.31 L741.29 136.81 L743.70 139.06 L743.70 148.07 L746.11 150.32 L746.11 159.33 L748.53 161.58 L748.53 170.58 L750.94 172.83 L750.94 181.84 L753.35 184.09 L753.35 190.84 L755.76 193.09 L755.76 195.34 L758.18 197.60 L760.59 197.60 L763.00 195.34 L763.00 190.84 L765.41 188.59 L765.41 184.09 L767.83 181.84 L767.83 172.83 L770.24 170.58 L770.24 163.83 L772.65 161.58 L772.65 152.57 L775.06 150.32 L775.06 145.82 L777.48 143.57 L777.48 139.06 L779.89 136.81 L782.30 136.81 L784.71 139.06 L784.71 141.32 L787.13 143.57 L787.13 150.32 L789.54 152.57 L789.54 159.33 L791.95 161.58 L791.95 172.83 L794.36 175.08 L794.36 184.09 L796.78 186.34 L796.78 193.09 L799.19 195.34 L799.19 202.10 L801.60 204.35 L801.60 206.60 L804.01 208.85 L806.43 206.60 L808.84 204.35 L808.84 202.10 L811.25 199.85 L811.25 193.09 L813.66 190.84 L813.66 181.84 L816.08 179.59 L816.08 170.58 L818.49 168.33 L818.49 161.58 L820.90 159.33 L820.90 152.57 L823.31 150.32 L823.31 148.07 L825.73 145.82 L828.14 143.57 L830.55 145.82 L830.55 150.32 L832.96 152.57 L832.96 157.07 L835.38 159.33 L835.38 168.33 L837.79 170.58 L837.79 179.59 L840.20 181.84 L840.20 190.84 L842.61 193.09 L842.61 199.85 L845.03 202.10 L845.03 206.60 L847.44 208.85 L847.44 211.10 L849.85 213.35 L852.26 211.10 L854.68 208.85 L854.68 204.35 L857.09 202.10 L857.09 195.34 L859.50 193.09 L859.50 184.09 L861.91 181.84 L861.91 172.83 L864.33 170.58 L864.33 161.58 L866.74 159.33 L866.74 154.82 L869.15 152.57 L869.15 148.07 L871.56 145.82 L873.98 145.82 L873.98 143.57 L873.98 145.82 L876.39 148.07 L876.39 150.32 L878.80 152.57 L878.80 157.07 L881.21 159.33 L881.21 168.33 L883.63 170.58 L883.63 177.34 L886.04 179.59 L886.04 188.59 L888.45 190.84 L888.45 197.60 L890.86 199.85 L890.86 204.35 L893.28 206.60 L893.28 208.85 L898.10 208.85 L898.10 206.60 L900.51 204.35 L900.51 199.85 L902.93 197.60 L902.93 188.59 L905.34 186.34 L905.34 177.34 L907.75 175.08 L907.75 166.08 L910.16 163.83 L910.16 154.82 L912.58 152.57 L912.58 145.82 L914.99 143.57 L914.99 141.32 L917.40 139.06 L919.81 136.81 L922.23 139.06 L922.23 143.57 L924.64 145.82 L924.64 150.32 L927.05 152.57 L927.05 159.33 L929.46 161.58 L929.46 170.58 L931.88 172.83 L931.88 181.84 L934.29 184.09 L934.29 188.59 L936.70 190.84 L936.70 195.34 L939.11 197.60 L941.53 199.85 L943.94 197.60 L943.94 195.34 L946.35 193.09 L946.35 186.34 L948.76 184.09 L948.76 177.34 L951.18 175.08 L951.18 166.08 L953.59 163.83 L953.59 154.82 L956.00 152.57 L956.00 143.57 L958.41 141.32 L958.41 134.56 L960.83 132.31 L960.83 127.81 L963.24 125.56 L965.65 125.56 L968.06 127.81 L968.06 130.06 L970.48 132.31 L970.48 139.06 L972.89 141.32 L972.89 148.07 L975.30 150.32 L975.30 159.33 L977.71 161.58 L977.71 168.33 L980.13 170.58 L980.13 177.34 L982.54 179.59 L982.54 181.84 L984.95 184.09 L984.95 186.34 L987.36 186.34 L989.78 184.09 L989.78 181.84 L992.19 179.59 L992.19 172.83 L994.60 170.58 L994.60 163.83 L997.01 161.58 L997.01 152.57 L999.43 150.32 L999.43 139.06 L1001.84 136.81 L1001.84 130.06 L1004.25 127.81 L1004.25 121.06 L1006.66 118.80 L1006.66 116.55 L1009.08 114.30 L1011.49 114.30 L1013.90 116.55 L1013.90 118.80 L1016.31 121.06 L1016.31 127.81 L1018.73 130.06 L1018.73 136.81 L1021.14 139.06 L1021.14 148.07 L1023.55 150.32 L1023.55 157.07 L1025.96 159.33 L1025.96 166.08 L1028.38 168.33 L1028.38 170.58 L1030.79 172.83 L1033.20 175.08 L1035.61 172.83 L1035.61 170.58 L1038.03 168.33 L1038.03 161.58 L1040.44 159.33 L1040.44 152.57 L1042.85 150.32 L1042.85 141.32 L1045.26 139.06 L1045.26 127.81 L1047.67 125.56 L1047.67 118.80 L1050.09 116.55 L1050.09 109.80 L1052.50 107.55 L1052.50 105.30 L1054.91 103.05 L1057.33 105.30 L1059.74 107.55 L1059.74 112.05 L1062.15 114.30 L1062.15 118.80 L1064.56 121.06 L1064.56 130.06 L1066.98 132.31 L1066.98 141.32 L1069.39 143.57 L1069.39 150.32 L1071.80 152.57 L1071.80 159.33 L1074.21 161.58 L1074.21 166.08 L1076.62 168.33 L1079.04 168.33 L1079.04 170.58 L1079.04 168.33 L1081.45 166.08 L1081.45 163.83 L1083.86 161.58 L1083.86 157.07 L1086.28 154.82 L1086.28 145.82 L1088.69 143.57 L1088.69 134.56 L1091.10 132.31 L1091.10 125.56 L1093.51 123.31 L1093.51 114.30 L1095.92 112.05 L1095.92 107.55 L1098.34 105.30 L1098.34 103.05 L1100.75 100.79 L1103.16 103.05 L1105.58 105.30 L1105.58 109.80 L1107.99 112.05 L1107.99 121.06 L1110.40 123.31 L1110.40 130.06 L1112.81 132.31 L1112.81 141.32 L1115.23 143.57 L1115.23 152.57 L1117.64 154.82 L1117.64 161.58 L1120.05 163.83 L1120.05 168.33 L1122.46 170.58 L1124.88 170.58 L1127.29 168.33 L1127.29 166.08 L1129.70 163.83 L1129.70 159.33 L1132.11 157.07 L1132.11 148.07 L1134.53 145.82 L1134.53 139.06 L1136.94 136.81 L1136.94 127.81 L1139.35 125.56 L1139.35 118.80 L1141.76 116.55 L1141.76 112.05 L1144.18 109.80 L1146.59 107.55 L1149.00 109.80 L1151.41 112.05 L1151.41 118.80 L1153.83 121.06 L1153.83 127.81 L1156.24 130.06 L1156.24 139.06 L1158.65 141.32 L1158.65 150.32 L1161.06 152.57 L1161.06 161.58 L1163.48 163.83 L1163.48 170.58 L1165.89 172.83 L1165.89 177.34 L1168.30 179.59 L1170.71 179.59 L1173.12 177.34 L1173.12 175.08 L1175.54 172.83 L1175.54 168.33 L1177.95 166.08 L1177.95 159.33 L1180.36 157.07 L1180.36 148.07 L1182.78 145.82 L1182.78 136.81 L1185.19 134.56 L1185.19 130.06 L1187.60 127.81 L1187.60 123.31 L1190.01 121.06 L1192.43 118.80 L1194.84 121.06 L1194.84 123.31 L1197.25 125.56 L1197.25 130.06 L1199.66 132.31 L1199.66 141.32 L1202.08 143.57 L1202.08 152.57 L1204.49 154.82 L1204.49 163.83 L1206.90 166.08 L1206.90 175.08 L1209.31 177.34 L1209.31 184.09 L1211.73 186.34 L1211.73 188.59 L1214.14 190.84 L1216.55 193.09 L1218.96 190.84 L1218.96 188.59 L1221.38 186.34 L1221.38 179.59 L1223.79 177.34 L1223.79 170.58 L1226.20 168.33 L1226.20 159.33 L1228.61 157.07 L1228.61 150.32 L1231.03 148.07 L1231.03 141.32 L1233.44 139.06 L1233.44 134.56 L1235.85 132.31 L1238.26 132.31 L1240.68 134.56 L1240.68 136.81 L1243.09 139.06 L1243.09 143.57 L1245.50 145.82 L1245.50 154.82 L1247.91 157.07 L1247.91 166.08 L1250.33 168.33 L1250.33 177.34 L1252.74 179.59 L1252.74 188.59 L1255.15 190.84 L1255.15 197.60 L1257.56 199.85 L1257.56 202.10 L1259.98 204.35 L1262.39 204.35 L1264.80 202.10 L1264.80 199.85 L1267.21 197.60 L1267.21 190.84 L1269.62 188.59 L1269.62 181.84 L1272.04 179.59 L1272.04 170.58 L1274.45 168.33 L1274.45 159.33 L1276.86 157.07 L1276.86 152.57 L1279.28 150.32 L1279.28 145.82 L1281.69 143.57 L1284.10 141.32 L1286.51 143.57 L1286.51 145.82 L1288.93 148.07 L1288.93 154.82 L1291.34 157.07 L1291.34 163.83 L1293.75 166.08 L1293.75 175.08 L1296.16 177.34 L1296.16 186.34 L1298.58 188.59 L1298.58 197.60 L1300.99 199.85 L1300.99 204.35 L1303.40 206.60 L1303.40 208.85 L1305.81 211.10 L1305.81 213.35 L1305.81 211.10 L1308.23 211.10 L1310.64 208.85 L1310.64 204.35 L1313.05 202.10 L1313.05 195.34 L1315.46 193.09 L1315.46 186.34 L1317.88 184.09 L1317.88 175.08 L1320.29 172.83 L1320.29 163.83 L1322.70 161.58 L1322.70 154.82 L1325.11 152.57 L1325.11 150.32 L1327.53 148.07 L1327.53 145.82 L1329.94 145.82 L1332.35 148.07 L1332.35 150.32 L1334.76 152.57 L1334.76 157.07 L1337.18 159.33 L1337.18 168.33 L1339.59 170.58 L1339.59 177.34 L1342.00 179.59 L1342.00 188.59 L1344.41 190.84 L1344.41 197.60 L1346.83 199.85 L1346.83 206.60 L1349.24 208.85 L1351.65 211.10 L1354.06 211.10 L1354.06 208.85 L1356.48 206.60 L1356.48 202.10 L1358.89 199.85 L1358.89 193.09 L1361.30 190.84 L1361.30 181.84 L1363.71 179.59 L1363.71 170.58 L1366.12 168.33 L1366.12 159.33 L1368.54 157.07 L1368.54 150.32 L1370.95 148.07 L1370.95 145.82 L1373.36 143.57 L1373.36 141.32 L1375.78 141.32 L1378.19 143.57 L1378.19 145.82 L1380.60 148.07 L1380.60 152.57 L1383.01 154.82 L1383.01 161.58 L1385.43 163.83 L1385.43 172.83 L1387.84 175.08 L1387.84 184.09 L1390.25 186.34 L1390.25 193.09 L1392.66 195.34 L1392.66 199.85 L1395.08 202.10 L1397.49 204.35 L1399.90 202.10 L1399.90 199.85 L1402.31 197.60 L1402.31 193.09 L1404.73 190.84 L1404.73 184.09 L1407.14 181.84 L1407.14 172.83 L1409.55 170.58 L1409.55 161.58 L1411.96 159.33 L1411.96 150.32 L1414.38 148.07 L1414.38 141.32 L1416.79 139.06 L1416.79 134.56 L1419.20 132.31 L1421.61 130.06 L1424.03 132.31 L1424.03 134.56 L1426.44 136.81 L1426.44 141.32 L1428.85 143.57 L1428.85 152.57 L1431.26 154.82 L1431.26 161.58 L1433.68 163.83 L1433.68 172.83 L1436.09 175.08 L1436.09 181.84 L1438.50 184.09 L1438.50 186.34 L1440.91 188.59 L1440.91 190.84 L1443.33 190.84 L1443.33 193.09 L1443.33 190.84 L1445.74 188.59 L1448.15 186.34 L1448.15 179.59 L1450.56 177.34 L1450.56 170.58 L1452.98 168.33 L1452.98 159.33 L1455.39 157.07 L1455.39 145.82 L1457.80 143.57 L1457.80 136.81 L1460.21 134.56 L1460.21 127.81 L1462.62 125.56 L1462.62 121.06 L1465.04 118.80 L1467.45 116.55 L1469.86 118.80 L1469.86 123.31 L1472.28 125.56 L1472.28 130.06 L1474.69 132.31 L1474.69 139.06 L1477.10 141.32 L1477.10 150.32 L1479.51 152.57 L1479.51 159.33 L1481.93 161.58 L1481.93 168.33 L1484.34 170.58 L1484.34 175.08 L1486.75 177.34 L1489.16 179.59 L1491.58 177.34 L1491.58 175.08 L1493.99 172.83 L1493.99 166.08 L1496.40 163.83 L1496.40 157.07 L1498.81 154.82 L1498.81 145.82 L1501.23 143.57 L1501.23 134.56 L1503.64 132.31 L1503.64 123.31 L1506.05 121.06 L1506.05 114.30 L1508.46 112.05 L1508.46 109.80 L1510.88 107.55 L1513.29 107.55 L1515.70 109.80 L1515.70 112.05 L1518.11 114.30 L1518.11 121.06 L1520.53 123.31 L1520.53 130.06 L1522.94 132.31 L1522.94 141.32 L1525.35 143.57 L1525.35 152.57 L1527.76 154.82 L1527.76 161.58 L1530.18 163.83 L1530.18 166.08 L1532.59 168.33 L1535.00 170.58 L1537.41 168.33 L1537.41 166.08 L1539.83 163.83 L1539.83 159.33 L1542.24 157.07 L1542.24 148.07 L1544.65 145.82 L1544.65 136.81 L1547.06 134.56 L1547.06 125.56 L1549.48 123.31 L1549.48 116.55 L1551.89 114.30 L1551.89 109.80 L1554.30 107.55 L1554.30 103.05 L1556.71 100.79 L1559.12 103.05 L1561.54 105.30 L1561.54 109.80 L1563.95 112.05 L1563.95 118.80 L1566.36 121.06 L1566.36 127.81 L1568.78 130.06 L1568.78 139.06 L1571.19 141.32 L1571.19 150.32 L1573.60 152.57 L1573.60 159.33 L1576.01 161.58 L1576.01 166.08 L1578.43 168.33 L1580.84 170.58 L1583.25 168.33 L1583.25 166.08 L1585.66 163.83 L1585.66 157.07 L1588.08 154.82 L1588.08 148.07 L1590.49 145.82 L1590.49 136.81 L1592.90 134.56 L1592.90 127.81 L1595.31 125.56 L1595.31 116.55 L1597.73 114.30 L1597.73 109.80 L1600.14 107.55 L1600.14 105.30 L1602.55 103.05 L1604.96 105.30 L1604.96 107.55 L1607.38 109.80 L1607.38 114.30 L1609.79 116.55 L1609.79 123.31 L1612.20 125.56 L1612.20 134.56 L1614.61 136.81 L1614.61 145.82 L1617.03 148.07 L1617.03 157.07 L1619.44 159.33 L1619.44 166.08 L1621.85 168.33 L1621.85 172.83 L1624.26 175.08 L1626.68 177.34 L1629.09 175.08 L1629.09 172.83 L1631.50 170.58 L1631.50 163.83 L1633.91 161.58 L1633.91 154.82 L1636.33 152.57 L1636.33 145.82 L1638.74 143.57 L1638.74 134.56 L1641.15 132.31 L1641.15 125.56 L1643.56 123.31 L1643.56 118.80 L1645.98 116.55 L1645.98 114.30 L1648.39 114.30 L1650.80 116.55 L1653.21 118.80 L1653.21 123.31 L1655.62 125.56 L1655.62 134.56 L1658.04 136.81 L1658.04 145.82 L1660.45 148.07 L1660.45 157.07 L1662.86 159.33 L1662.86 168.33 L1665.28 170.58 L1665.28 177.34 L1667.69 179.59 L1667.69 184.09 L1670.10 186.34 L1672.51 188.59 L1674.93 186.34 L1674.93 184.09 L1677.34 181.84 L1677.34 177.34 L1679.75 175.08 L1679.75 166.08 L1682.16 163.83 L1682.16 157.07 L1684.58 154.82 L1684.58 145.82 L1686.99 143.57 L1686.99 136.81 L1689.40 134.56 L1689.40 132.31 L1691.81 130.06 L1691.81 127.81 L1694.23 125.56 L1696.64 127.81 L1696.64 130.06 L1699.05 132.31 L1699.05 139.06 L1701.46 141.32 L1701.46 148.07 L1703.88 150.32 L1703.88 159.33 L1706.29 161.58 L1706.29 170.58 L1708.70 172.83 L1708.70 181.84 L1711.11 184.09 L1711.11 190.84 L1713.53 193.09 L1713.53 197.60 L1715.94 199.85 L1718.35 199.85 L1718.35 202.10 L1718.35 199.85 L1720.76 197.60 L1720.76 195.34 L1723.18 193.09 L1723.18 188.59 L1725.59 186.34 L1725.59 179.59 L1728.00 177.34 L1728.00 168.33 L1730.41 166.08 L1730.41 157.07 L1732.83 154.82 L1732.83 148.07"/>
</g>
<g clip-path="url(#cb)" fill="none" stroke-width="2.65" stroke-linejoin="miter" stroke-miterlimit="3">
<path stroke="#ff0000" d="M81.08 620.86 L81.08 616.36 L83.50 614.11 L85.92 616.36 L85.92 625.37 L88.34 627.62 L88.34 643.37 L90.76 645.62 L90.76 668.13 L93.18 670.39 L93.18 695.15 L95.60 697.40 L95.60 722.16 L98.02 724.41 L98.02 746.92 L100.44 749.17 L100.44 767.18 L102.86 769.43 L102.86 778.43 L105.28 780.69 L105.28 785.19 L105.28 782.94 L107.70 782.94 L107.70 778.43 L110.12 776.18 L110.12 764.93 L112.54 762.68 L112.54 742.42 L114.96 740.17 L114.96 717.66 L117.38 715.41 L117.38 690.64 L119.80 688.39 L119.80 663.63 L122.22 661.38 L122.22 641.12 L124.64 638.87 L124.64 625.37 L127.06 623.12 L127.06 616.36 L129.48 614.11 L131.90 616.36 L131.90 623.12 L134.32 625.37 L134.32 641.12 L136.74 643.37 L136.74 663.63 L139.16 665.88 L139.16 690.64 L141.58 692.90 L141.58 719.91 L144.00 722.16 L144.00 744.67 L146.42 746.92 L146.42 764.93 L148.84 767.18 L148.84 778.43 L151.26 780.69 L151.26 782.94 L153.68 782.94 L153.68 778.43 L156.10 776.18 L156.10 767.18 L158.52 764.93 L158.52 746.92 L160.94 744.67 L160.94 719.91 L163.36 717.66 L163.36 692.90 L165.78 690.64 L165.78 665.88 L168.20 663.63 L168.20 643.37 L170.62 641.12 L170.62 625.37 L173.04 623.12 L173.04 616.36 L175.46 614.11 L177.88 616.36 L177.88 623.12 L180.30 625.37 L180.30 638.87 L182.72 641.12 L182.72 661.38 L185.14 663.63 L185.14 688.39 L187.56 690.64 L187.56 715.41 L189.98 717.66 L189.98 742.42 L192.40 744.67 L192.40 762.68 L194.82 764.93 L194.82 776.18 L197.24 778.43 L197.24 782.94 L199.66 782.94 L199.66 785.19 L199.66 780.69 L202.08 778.43 L202.08 767.18 L204.50 764.93 L204.50 749.17 L206.92 746.92 L206.92 724.41 L209.34 722.16 L209.34 695.15 L211.76 692.90 L211.76 668.13 L214.18 665.88 L214.18 645.62 L216.60 643.37 L216.60 627.62 L219.02 625.37 L219.02 616.36 L221.44 614.11 L223.86 616.36 L223.86 620.86 L226.28 623.12 L226.28 636.62 L228.70 638.87 L228.70 659.13 L231.12 661.38 L231.12 686.14 L233.54 688.39 L233.54 713.16 L235.96 715.41 L235.96 740.17 L238.38 742.42 L238.38 760.43 L240.80 762.68 L240.80 776.18 L243.22 778.43 L243.22 780.69 L245.64 780.69 L245.64 785.19 L245.64 780.69 L248.06 778.43 L248.06 769.43 L250.48 767.18 L250.48 751.42 L252.90 749.17 L252.90 726.66 L255.32 724.41 L255.32 699.65 L257.74 697.40 L257.74 672.64 L260.16 670.39 L260.16 647.88 L262.58 645.62 L262.58 629.87 L265.00 627.62 L265.00 618.61 L267.42 616.36 L267.42 614.11 L267.42 616.36 L269.84 616.36 L269.84 620.86 L272.26 623.12 L272.26 634.37 L274.68 636.62 L274.68 656.88 L277.10 659.13 L277.10 681.64 L279.52 683.89 L279.52 710.90 L281.94 713.16 L281.94 735.67 L284.36 737.92 L284.36 758.18 L286.78 760.43 L286.78 773.93 L289.20 776.18 L289.20 780.69 L291.62 782.94 L291.62 785.19 L291.62 782.94 L294.04 780.69 L294.04 771.68 L296.46 769.43 L296.46 753.67 L298.88 751.42 L298.88 728.91 L301.30 726.66 L301.30 701.90 L303.72 699.65 L303.72 674.89 L306.14 672.64 L306.14 650.13 L308.56 647.88 L308.56 629.87 L310.98 627.62 L310.98 618.61 L313.40 616.36 L313.40 614.11 L313.40 616.36 L315.82 616.36 L315.82 618.61 L318.24 620.86 L318.24 632.12 L320.66 634.37 L320.66 654.63 L323.08 656.88 L323.08 679.39 L325.50 681.64 L325.50 706.40 L327.92 708.65 L327.92 733.41 L330.34 735.67 L330.34 755.92 L332.76 758.18 L332.76 771.68 L335.18 773.93 L335.18 780.69 L337.60 785.19 L340.02 780.69 L340.02 773.93 L342.44 771.68 L342.44 755.92 L344.86 753.67 L344.86 731.16 L347.28 728.91 L347.28 706.40 L349.70 704.15 L349.70 677.14 L352.12 674.89 L352.12 652.38 L354.54 650.13 L354.54 632.12 L356.96 629.87 L356.96 620.86 L359.38 618.61 L359.38 616.36 L376.32 616.36 L378.74 618.61 L383.58 618.61 L386.00 620.86 L390.84 620.86 L393.26 623.12 L395.68 623.12 L398.10 625.37 L400.52 627.62 L402.94 627.62 L405.36 629.87 L407.78 632.12 L410.20 634.37 L412.62 634.37 L415.04 636.62 L417.46 638.87 L419.88 641.12 L422.30 643.37 L424.72 645.62 L427.14 647.88 L429.56 650.13 L431.98 652.38 L434.40 654.63 L436.82 656.88 L439.24 659.13 L441.66 661.38 L444.08 663.63 L446.50 663.63 L448.92 665.88 L451.34 668.13 L453.76 670.39 L456.18 672.64 L458.60 674.89 L461.02 677.14 L463.44 679.39 L465.86 681.64 L468.28 683.89 L470.70 686.14 L473.12 688.39 L475.54 690.64 L477.96 692.90 L480.38 695.15 L482.80 697.40 L482.80 699.65 L485.22 701.90 L487.64 704.15 L490.06 706.40 L492.48 708.65 L494.90 710.90 L497.32 713.16 L497.32 715.41 L499.74 717.66 L502.16 719.91 L504.58 722.16 L507.00 724.41 L507.00 726.66 L509.42 728.91 L511.84 731.16 L514.26 733.41 L516.68 735.67 L519.10 737.92 L521.52 740.17 L523.94 742.42 L526.36 744.67 L528.78 746.92 L531.20 749.17 L533.62 751.42 L536.04 753.67 L538.46 755.92 L540.88 758.18 L543.30 760.43 L545.72 760.43 L548.14 762.68 L550.56 764.93 L552.98 767.18 L555.40 767.18 L557.82 769.43 L560.24 771.68 L562.66 771.68 L565.08 773.93 L567.50 773.93 L569.92 776.18 L572.34 776.18 L574.76 778.43 L582.02 778.43 L584.44 780.69 L615.90 780.69 L618.32 778.43 L623.16 778.43 L625.58 776.18 L630.42 776.18 L632.84 773.93 L635.26 773.93 L637.68 771.68 L640.10 769.43 L642.52 769.43 L644.94 767.18 L647.36 767.18 L649.78 764.93 L652.20 762.68 L654.62 760.43 L657.04 760.43 L659.46 758.18 L661.88 755.92 L664.30 753.67 L666.72 751.42 L669.14 749.17 L671.56 746.92 L673.98 744.67 L676.40 742.42 L678.82 740.17 L681.24 737.92 L683.66 735.67 L686.08 733.41 L688.50 731.16 L690.92 728.91 L693.34 726.66 L695.76 724.41 L698.18 722.16 L700.60 719.91 L703.02 717.66 L705.44 715.41 L707.86 713.16 L710.28 710.90 L710.28 708.65 L712.70 706.40 L715.12 704.15 L717.54 701.90 L719.96 699.65 L722.38 697.40 L724.80 695.15 L727.22 692.90 L727.22 690.64 L729.64 688.39 L732.06 686.14 L734.48 683.89 L736.90 681.64 L739.32 679.39 L741.74 677.14 L741.74 674.89 L744.16 672.64 L746.58 670.39 L749.00 668.13 L751.42 665.88 L753.84 663.63 L756.26 661.38 L758.68 659.13 L761.10 656.88 L763.52 654.63 L765.94 652.38 L768.36 650.13 L770.78 647.88 L773.20 645.62 L775.62 643.37 L778.04 641.12 L780.46 638.87 L782.88 636.62 L785.30 636.62 L787.72 634.37 L790.14 632.12 L792.56 629.87 L794.98 629.87 L797.40 627.62 L799.82 625.37 L802.24 625.37 L804.66 623.12 L807.08 623.12 L809.50 620.86 L814.34 620.86 L816.76 618.61 L821.60 618.61 L824.02 616.36 L855.48 616.36 L857.90 618.61 L862.74 618.61 L865.16 620.86 L870.00 620.86 L872.42 623.12 L874.84 623.12 L877.26 625.37 L879.68 627.62 L882.10 627.62 L884.52 629.87 L886.94 632.12 L889.36 632.12 L891.78 634.37 L894.20 636.62 L896.62 638.87 L899.04 638.87 L901.46 641.12 L903.88 643.37 L906.30 645.62 L908.72 647.88 L911.14 650.13 L913.56 652.38 L915.98 652.38 L918.40 654.63 L920.82 656.88 L923.24 659.13 L925.66 661.38 L928.08 663.63 L930.50 665.88 L932.92 668.13 L935.34 670.39 L937.76 672.64 L940.18 674.89 L942.60 677.14 L942.60 679.39 L945.02 681.64 L947.44 683.89 L949.86 686.14 L952.28 688.39 L954.70 690.64 L957.12 692.90 L957.12 695.15 L959.54 697.40 L961.96 699.65 L964.38 701.90 L966.80 704.15 L969.22 706.40 L971.64 708.65 L971.64 710.90 L974.06 713.16 L976.48 715.41 L978.90 717.66 L981.32 719.91 L983.74 722.16 L986.16 724.41 L988.58 726.66 L991.00 728.91 L993.42 731.16 L995.84 733.41 L998.26 735.67 L1000.68 737.92 L1003.10 740.17 L1005.52 742.42 L1007.94 744.67 L1010.36 746.92 L1012.78 749.17 L1015.20 751.42 L1017.62 753.67 L1020.04 755.92 L1022.46 758.18 L1024.88 760.43 L1027.30 762.68 L1029.72 762.68 L1032.14 764.93 L1034.56 767.18 L1036.98 767.18 L1039.40 769.43 L1041.82 771.68 L1044.24 771.68 L1046.66 773.93 L1049.08 773.93 L1051.50 776.18 L1056.34 776.18 L1058.76 778.43 L1063.60 778.43 L1066.02 780.69 L1090.22 780.69 L1092.64 778.43 L1099.90 778.43 L1102.32 776.18 L1107.16 776.18 L1109.58 773.93 L1112.00 773.93 L1114.42 771.68 L1116.84 771.68 L1119.26 769.43 L1121.68 769.43 L1124.10 767.18 L1126.52 764.93 L1128.94 764.93 L1131.36 762.68 L1133.78 760.43 L1136.20 760.43 L1138.62 758.18 L1141.04 755.92 L1143.46 753.67 L1145.88 751.42 L1148.30 751.42 L1150.72 749.17 L1153.14 746.92 L1155.56 744.67 L1157.98 742.42 L1160.40 740.17 L1162.82 737.92 L1165.24 735.67 L1167.66 733.41 L1170.08 731.16 L1172.50 728.91 L1174.92 726.66 L1177.34 724.41 L1179.76 722.16 L1179.76 719.91 L1182.18 717.66 L1184.60 715.41 L1187.02 713.16 L1189.44 710.90 L1191.86 708.65 L1194.28 706.40 L1196.70 704.15 L1199.12 701.90 L1199.12 699.65 L1201.54 697.40 L1203.96 695.15 L1206.38 692.90 L1208.80 690.64 L1211.22 688.39 L1213.64 686.14 L1216.06 683.89 L1218.48 681.64 L1218.48 679.39 L1220.90 677.14 L1223.32 674.89 L1225.74 672.64 L1228.16 670.39 L1230.58 668.13 L1233.00 665.88 L1235.42 663.63 L1237.84 661.38 L1240.26 659.13 L1242.68 656.88 L1245.10 654.63 L1247.52 652.38 L1249.94 650.13 L1252.36 647.88 L1254.78 645.62 L1257.20 643.37 L1259.62 641.12 L1262.04 638.87 L1264.46 638.87 L1266.88 636.62 L1269.30 634.37 L1271.72 632.12 L1274.14 629.87 L1276.56 629.87 L1278.98 627.62 L1281.40 627.62 L1283.82 625.37 L1286.24 623.12 L1291.08 623.12 L1293.50 620.86 L1295.92 620.86 L1298.34 618.61 L1305.60 618.61 L1308.02 616.36 L1332.22 616.36 L1334.64 618.61 L1341.90 618.61 L1344.32 620.86 L1346.74 620.86 L1349.16 623.12 L1351.58 623.12 L1354.00 625.37 L1356.42 625.37 L1358.84 627.62 L1361.26 627.62 L1363.68 629.87 L1366.10 629.87 L1368.52 632.12 L1370.94 634.37 L1373.36 636.62 L1375.78 636.62 L1378.20 638.87 L1380.62 641.12 L1383.04 643.37 L1385.46 645.62 L1387.88 645.62 L1390.30 647.88 L1392.72 650.13 L1395.14 652.38 L1397.56 654.63 L1399.98 656.88 L1402.40 659.13 L1404.82 661.38 L1407.24 663.63 L1409.66 665.88 L1412.08 668.13 L1414.50 670.39 L1416.92 672.64 L1419.34 674.89 L1421.76 677.14 L1424.18 679.39 L1426.60 681.64 L1429.02 683.89 L1431.44 686.14 L1433.86 688.39 L1436.28 690.64 L1438.70 692.90 L1441.12 695.15 L1441.12 697.40 L1443.54 699.65 L1445.96 701.90 L1448.38 704.15 L1450.80 706.40 L1453.22 708.65 L1455.64 710.90 L1455.64 713.16 L1458.06 715.41 L1460.48 717.66 L1462.90 719.91 L1465.32 722.16 L1465.32 724.41 L1467.74 726.66 L1470.16 728.91 L1472.58 731.16 L1475.00 733.41 L1477.42 735.67 L1479.84 737.92 L1482.26 740.17 L1484.68 742.42 L1487.10 744.67 L1489.52 746.92 L1491.94 749.17 L1494.36 751.42 L1496.78 753.67 L1499.20 755.92 L1501.62 755.92 L1504.04 758.18 L1506.46 760.43 L1508.88 760.43 L1511.30 762.68 L1513.72 764.93 L1516.14 764.93 L1518.56 767.18 L1520.98 769.43 L1523.40 769.43 L1525.82 771.68 L1528.24 771.68 L1530.66 773.93 L1535.50 773.93 L1537.92 776.18 L1542.76 776.18 L1545.18 778.43 L1579.06 778.43 L1581.48 776.18 L1586.32 776.18 L1588.74 773.93 L1591.16 773.93 L1593.58 771.68 L1596.00 771.68 L1598.42 769.43 L1600.84 769.43 L1603.26 767.18 L1605.68 767.18 L1608.10 764.93 L1610.52 762.68 L1612.94 760.43 L1615.36 760.43 L1617.78 758.18 L1620.20 755.92 L1622.62 753.67 L1625.04 751.42 L1627.46 751.42 L1629.88 749.17 L1632.30 746.92 L1634.72 744.67 L1637.14 742.42 L1639.56 740.17 L1641.98 737.92 L1644.40 735.67 L1646.82 733.41 L1649.24 731.16 L1651.66 728.91 L1654.08 728.91 L1656.50 726.66 L1658.92 724.41 L1661.34 722.16 L1663.76 719.91 L1666.18 717.66 L1666.18 715.41 L1668.60 713.16 L1671.02 710.90 L1673.44 708.65 L1675.86 706.40 L1678.28 704.15 L1680.70 701.90 L1683.12 699.65 L1683.12 697.40 L1685.54 695.15 L1687.96 692.90 L1690.38 690.64 L1692.80 688.39 L1692.80 686.14 L1695.22 683.89 L1697.64 681.64 L1700.06 679.39 L1702.48 677.14 L1704.90 674.89 L1707.32 672.64 L1709.74 670.39 L1712.16 668.13 L1714.58 665.88 L1717.00 663.63 L1719.42 661.38 L1721.84 659.13 L1724.26 656.88 L1726.68 654.63 L1729.10 652.38 L1731.52 650.13 L1733.94 650.13 L1736.36 647.88 L1738.78 645.62 L1741.20 643.37 L1743.62 641.12 L1746.04 638.87 L1748.46 636.62 L1750.88 634.37"/>
<path stroke="#000" d="M81.08 706.40 L81.08 731.16 L83.50 733.41 L83.50 753.67 L85.92 755.92 L85.92 771.68 L88.34 773.93 L88.34 780.69 L90.76 785.19 L93.18 780.69 L93.18 773.93 L95.60 771.68 L95.60 758.18 L98.02 755.92 L98.02 733.41 L100.44 731.16 L100.44 708.65 L102.86 706.40 L102.86 679.39 L105.28 677.14 L105.28 654.63 L107.70 652.38 L107.70 634.37 L110.12 632.12 L110.12 620.86 L112.54 618.61 L112.54 616.36 L114.96 616.36 L114.96 614.11 L114.96 616.36 L117.38 618.61 L117.38 629.87 L119.80 632.12 L119.80 650.13 L122.22 652.38 L122.22 674.89 L124.64 677.14 L124.64 701.90 L127.06 704.15 L127.06 728.91 L129.48 731.16 L129.48 751.42 L131.90 753.67 L131.90 769.43 L134.32 771.68 L134.32 780.69 L136.74 785.19 L139.16 780.69 L139.16 776.18 L141.58 773.93 L141.58 760.43 L144.00 758.18 L144.00 737.92 L146.42 735.67 L146.42 710.90 L148.84 708.65 L148.84 683.89 L151.26 681.64 L151.26 656.88 L153.68 654.63 L153.68 636.62 L156.10 634.37 L156.10 620.86 L158.52 618.61 L158.52 616.36 L160.94 616.36 L160.94 614.11 L160.94 616.36 L163.36 618.61 L163.36 627.62 L165.78 629.87 L165.78 647.88 L168.20 650.13 L168.20 672.64 L170.62 674.89 L170.62 699.65 L173.04 701.90 L173.04 726.66 L175.46 728.91 L175.46 749.17 L177.88 751.42 L177.88 769.43 L180.30 771.68 L180.30 778.43 L182.72 780.69 L182.72 785.19 L182.72 780.69 L185.14 780.69 L185.14 776.18 L187.56 773.93 L187.56 762.68 L189.98 760.43 L189.98 740.17 L192.40 737.92 L192.40 713.16 L194.82 710.90 L194.82 686.14 L197.24 683.89 L197.24 659.13 L199.66 656.88 L199.66 638.87 L202.08 636.62 L202.08 623.12 L204.50 620.86 L204.50 616.36 L206.92 616.36 L206.92 614.11 L206.92 616.36 L209.34 618.61 L209.34 625.37 L211.76 627.62 L211.76 645.62 L214.18 647.88 L214.18 668.13 L216.60 670.39 L216.60 695.15 L219.02 697.40 L219.02 722.16 L221.44 724.41 L221.44 746.92 L223.86 749.17 L223.86 767.18 L226.28 769.43 L226.28 778.43 L228.70 780.69 L228.70 785.19 L228.70 780.69 L231.12 780.69 L231.12 778.43 L233.54 776.18 L233.54 762.68 L235.96 760.43 L235.96 742.42 L238.38 740.17 L238.38 717.66 L240.80 715.41 L240.80 688.39 L243.22 686.14 L243.22 663.63 L245.64 661.38 L245.64 641.12 L248.06 638.87 L248.06 623.12 L250.48 620.86 L250.48 616.36 L252.90 614.11 L255.32 616.36 L255.32 625.37 L257.74 627.62 L257.74 641.12 L260.16 643.37 L260.16 665.88 L262.58 668.13 L262.58 692.90 L265.00 695.15 L265.00 719.91 L267.42 722.16 L267.42 744.67 L269.84 746.92 L269.84 764.93 L272.26 767.18 L272.26 778.43 L274.68 780.69 L274.68 782.94 L277.10 782.94 L277.10 778.43 L279.52 776.18 L279.52 764.93 L281.94 762.68 L281.94 744.67 L284.36 742.42 L284.36 719.91 L286.78 717.66 L286.78 692.90 L289.20 690.64 L289.20 665.88 L291.62 663.63 L291.62 643.37 L294.04 641.12 L294.04 625.37 L296.46 623.12 L296.46 616.36 L298.88 614.11 L301.30 616.36 L301.30 623.12 L303.72 625.37 L303.72 638.87 L306.14 641.12 L306.14 663.63 L308.56 665.88 L308.56 690.64 L310.98 692.90 L310.98 717.66 L313.40 719.91 L313.40 742.42 L315.82 744.67 L315.82 762.68 L318.24 764.93 L318.24 776.18 L320.66 778.43 L320.66 782.94 L323.08 782.94 L323.08 780.69 L325.50 778.43 L325.50 767.18 L327.92 764.93 L327.92 746.92 L330.34 744.67 L330.34 722.16 L332.76 719.91 L332.76 695.15 L335.18 692.90 L335.18 668.13 L337.60 665.88 L337.60 645.62 L340.02 643.37 L340.02 627.62 L342.44 625.37 L342.44 616.36 L344.86 614.11 L347.28 616.36 L347.28 620.86 L349.70 623.12 L349.70 638.87 L352.12 641.12 L352.12 661.38 L354.54 663.63 L354.54 686.14 L356.96 688.39 L356.96 713.16 L359.38 715.41 L359.38 724.41 L361.80 726.66 L405.36 726.66 L407.78 724.41 L419.88 724.41 L422.30 722.16 L429.56 722.16 L431.98 719.91 L436.82 719.91 L439.24 717.66 L444.08 717.66 L446.50 715.41 L451.34 715.41 L453.76 713.16 L458.60 713.16 L461.02 710.90 L465.86 710.90 L468.28 708.65 L470.70 708.65 L473.12 706.40 L477.96 706.40 L480.38 704.15 L485.22 704.15 L487.64 701.90 L490.06 701.90 L492.48 699.65 L497.32 699.65 L499.74 697.40 L504.58 697.40 L507.00 695.15 L509.42 695.15 L511.84 692.90 L516.68 692.90 L519.10 690.64 L523.94 690.64 L526.36 688.39 L528.78 688.39 L531.20 686.14 L536.04 686.14 L538.46 683.89 L543.30 683.89 L545.72 681.64 L550.56 681.64 L552.98 679.39 L557.82 679.39 L560.24 677.14 L567.50 677.14 L569.92 674.89 L577.18 674.89 L579.60 672.64 L589.28 672.64 L591.70 670.39 L642.52 670.39 L644.94 672.64 L659.46 672.64 L661.88 674.89 L669.14 674.89 L671.56 677.14 L678.82 677.14 L681.24 679.39 L688.50 679.39 L690.92 681.64 L695.76 681.64 L698.18 683.89 L703.02 683.89 L705.44 686.14 L710.28 686.14 L712.70 688.39 L715.12 688.39 L717.54 690.64 L722.38 690.64 L724.80 692.90 L727.22 692.90 L729.64 695.15 L732.06 695.15 L734.48 697.40 L739.32 697.40 L741.74 699.65 L744.16 699.65 L746.58 701.90 L751.42 701.90 L753.84 704.15 L756.26 704.15 L758.68 706.40 L763.52 706.40 L765.94 708.65 L768.36 708.65 L770.78 710.90 L775.62 710.90 L778.04 713.16 L782.88 713.16 L785.30 715.41 L790.14 715.41 L792.56 717.66 L797.40 717.66 L799.82 719.91 L804.66 719.91 L807.08 722.16 L816.76 722.16 L819.18 724.41 L831.28 724.41 L833.70 726.66 L879.68 726.66 L882.10 724.41 L896.62 724.41 L899.04 722.16 L906.30 722.16 L908.72 719.91 L915.98 719.91 L918.40 717.66 L923.24 717.66 L925.66 715.41 L930.50 715.41 L932.92 713.16 L937.76 713.16 L940.18 710.90 L945.02 710.90 L947.44 708.65 L952.28 708.65 L954.70 706.40 L957.12 706.40 L959.54 704.15 L964.38 704.15 L966.80 701.90 L969.22 701.90 L971.64 699.65 L976.48 699.65 L978.90 697.40 L981.32 697.40 L983.74 695.15 L988.58 695.15 L991.00 692.90 L993.42 692.90 L995.84 690.64 L1000.68 690.64 L1003.10 688.39 L1005.52 688.39 L1007.94 686.14 L1012.78 686.14 L1015.20 683.89 L1020.04 683.89 L1022.46 681.64 L1027.30 681.64 L1029.72 679.39 L1034.56 679.39 L1036.98 677.14 L1044.24 677.14 L1046.66 674.89 L1053.92 674.89 L1056.34 672.64 L1066.02 672.64 L1068.44 670.39 L1128.94 670.39 L1131.36 672.64 L1141.04 672.64 L1143.46 674.89 L1153.14 674.89 L1155.56 677.14 L1160.40 677.14 L1162.82 679.39 L1167.66 679.39 L1170.08 681.64 L1174.92 681.64 L1177.34 683.89 L1182.18 683.89 L1184.60 686.14 L1189.44 686.14 L1191.86 688.39 L1194.28 688.39 L1196.70 690.64 L1201.54 690.64 L1203.96 692.90 L1206.38 692.90 L1208.80 695.15 L1213.64 695.15 L1216.06 697.40 L1218.48 697.40 L1220.90 699.65 L1223.32 699.65 L1225.74 701.90 L1230.58 701.90 L1233.00 704.15 L1235.42 704.15 L1237.84 706.40 L1242.68 706.40 L1245.10 708.65 L1247.52 708.65 L1249.94 710.90 L1254.78 710.90 L1257.20 713.16 L1262.04 713.16 L1264.46 715.41 L1269.30 715.41 L1271.72 717.66 L1276.56 717.66 L1278.98 719.91 L1286.24 719.91 L1288.66 722.16 L1298.34 722.16 L1300.76 724.41 L1315.28 724.41 L1317.70 726.66 L1358.84 726.66 L1361.26 724.41 L1373.36 724.41 L1375.78 722.16 L1385.46 722.16 L1387.88 719.91 L1395.14 719.91 L1397.56 717.66 L1404.82 717.66 L1407.24 715.41 L1412.08 715.41 L1414.50 713.16 L1419.34 713.16 L1421.76 710.90 L1426.60 710.90 L1429.02 708.65 L1431.44 708.65 L1433.86 706.40 L1438.70 706.40 L1441.12 704.15 L1445.96 704.15 L1448.38 701.90 L1450.80 701.90 L1453.22 699.65 L1458.06 699.65 L1460.48 697.40 L1462.90 697.40 L1465.32 695.15 L1470.16 695.15 L1472.58 692.90 L1475.00 692.90 L1477.42 690.64 L1482.26 690.64 L1484.68 688.39 L1487.10 688.39 L1489.52 686.14 L1494.36 686.14 L1496.78 683.89 L1501.62 683.89 L1504.04 681.64 L1508.88 681.64 L1511.30 679.39 L1516.14 679.39 L1518.56 677.14 L1525.82 677.14 L1528.24 674.89 L1537.92 674.89 L1540.34 672.64 L1554.86 672.64 L1557.28 670.39 L1600.84 670.39 L1603.26 672.64 L1617.78 672.64 L1620.20 674.89 L1627.46 674.89 L1629.88 677.14 L1637.14 677.14 L1639.56 679.39 L1644.40 679.39 L1646.82 681.64 L1651.66 681.64 L1654.08 683.89 L1658.92 683.89 L1661.34 686.14 L1663.76 686.14 L1666.18 688.39 L1671.02 688.39 L1673.44 690.64 L1675.86 690.64 L1678.28 692.90 L1680.70 692.90 L1683.12 695.15 L1687.96 695.15 L1690.38 697.40 L1692.80 697.40 L1695.22 699.65 L1700.06 699.65 L1702.48 701.90 L1704.90 701.90 L1707.32 704.15 L1712.16 704.15 L1714.58 706.40 L1719.42 706.40 L1721.84 708.65 L1729.10 708.65 L1731.52 710.90 L1736.36 710.90 L1738.78 713.16 L1743.62 713.16 L1746.04 715.41 L1748.46 715.41 L1750.88 717.66"/>
<path stroke="#0000ff" d="M81.08 767.18 L81.08 749.17 L83.50 746.92 L83.50 724.41 L85.92 722.16 L85.92 697.40 L88.34 695.15 L88.34 670.39 L90.76 668.13 L90.76 645.62 L93.18 643.37 L93.18 627.62 L95.60 625.37 L95.60 616.36 L98.02 614.11 L100.44 616.36 L100.44 620.86 L102.86 623.12 L102.86 636.62 L105.28 638.87 L105.28 659.13 L107.70 661.38 L107.70 683.89 L110.12 686.14 L110.12 713.16 L112.54 715.41 L112.54 737.92 L114.96 740.17 L114.96 760.43 L117.38 762.68 L117.38 773.93 L119.80 776.18 L119.80 780.69 L122.22 780.69 L122.22 785.19 L122.22 780.69 L124.64 778.43 L124.64 769.43 L127.06 767.18 L127.06 751.42 L129.48 749.17 L129.48 726.66 L131.90 724.41 L131.90 699.65 L134.32 697.40 L134.32 672.64 L136.74 670.39 L136.74 647.88 L139.16 645.62 L139.16 629.87 L141.58 627.62 L141.58 618.61 L144.00 616.36 L144.00 614.11 L144.00 616.36 L146.42 616.36 L146.42 618.61 L148.84 620.86 L148.84 634.37 L151.26 636.62 L151.26 654.63 L153.68 656.88 L153.68 681.64 L156.10 683.89 L156.10 708.65 L158.52 710.90 L158.52 735.67 L160.94 737.92 L160.94 758.18 L163.36 760.43 L163.36 773.93 L165.78 776.18 L165.78 780.69 L168.20 785.19 L170.62 780.69 L170.62 771.68 L173.04 769.43 L173.04 753.67 L175.46 751.42 L175.46 731.16 L177.88 728.91 L177.88 704.15 L180.30 701.90 L180.30 677.14 L182.72 674.89 L182.72 650.13 L185.14 647.88 L185.14 632.12 L187.56 629.87 L187.56 618.61 L189.98 616.36 L189.98 614.11 L189.98 616.36 L192.40 616.36 L192.40 618.61 L194.82 620.86 L194.82 632.12 L197.24 634.37 L197.24 652.38 L199.66 654.63 L199.66 679.39 L202.08 681.64 L202.08 706.40 L204.50 708.65 L204.50 733.41 L206.92 735.67 L206.92 755.92 L209.34 758.18 L209.34 771.68 L211.76 773.93 L211.76 780.69 L214.18 785.19 L216.60 780.69 L216.60 773.93 L219.02 771.68 L219.02 755.92 L221.44 753.67 L221.44 733.41 L223.86 731.16 L223.86 706.40 L226.28 704.15 L226.28 679.39 L228.70 677.14 L228.70 654.63 L231.12 652.38 L231.12 634.37 L233.54 632.12 L233.54 620.86 L235.96 618.61 L235.96 616.36 L238.38 616.36 L240.80 618.61 L240.80 629.87 L243.22 632.12 L243.22 650.13 L245.64 652.38 L245.64 674.89 L248.06 677.14 L248.06 704.15 L250.48 706.40 L250.48 728.91 L252.90 731.16 L252.90 753.67 L255.32 755.92 L255.32 771.68 L257.74 773.93 L257.74 780.69 L260.16 785.19 L262.58 780.69 L262.58 776.18 L265.00 773.93 L265.00 758.18 L267.42 755.92 L267.42 735.67 L269.84 733.41 L269.84 708.65 L272.26 706.40 L272.26 681.64 L274.68 679.39 L274.68 656.88 L277.10 654.63 L277.10 634.37 L279.52 632.12 L279.52 620.86 L281.94 618.61 L281.94 616.36 L284.36 616.36 L284.36 614.11 L284.36 616.36 L286.78 618.61 L286.78 627.62 L289.20 629.87 L289.20 647.88 L291.62 650.13 L291.62 672.64 L294.04 674.89 L294.04 699.65 L296.46 701.90 L296.46 726.66 L298.88 728.91 L298.88 751.42 L301.30 753.67 L301.30 769.43 L303.72 771.68 L303.72 780.69 L306.14 782.94 L306.14 785.19 L306.14 782.94 L308.56 780.69 L308.56 776.18 L310.98 773.93 L310.98 760.43 L313.40 758.18 L313.40 737.92 L315.82 735.67 L315.82 713.16 L318.24 710.90 L318.24 683.89 L320.66 681.64 L320.66 659.13 L323.08 656.88 L323.08 636.62 L325.50 634.37 L325.50 623.12 L327.92 620.86 L327.92 616.36 L330.34 616.36 L330.34 614.11 L330.34 616.36 L332.76 618.61 L332.76 627.62 L335.18 629.87 L335.18 645.62 L337.60 647.88 L337.60 670.39 L340.02 672.64 L340.02 697.40 L342.44 699.65 L342.44 724.41 L344.86 726.66 L344.86 749.17 L347.28 751.42 L347.28 767.18 L349.70 769.43 L349.70 778.43 L352.12 780.69 L352.12 785.19 L352.12 780.69 L354.54 780.69 L354.54 778.43 L356.96 776.18 L356.96 762.68 L359.38 760.43 L359.38 755.92 L361.80 753.67 L366.64 753.67 L369.06 751.42 L376.32 751.42 L378.74 749.17 L383.58 749.17 L386.00 746.92 L390.84 746.92 L393.26 744.67 L395.68 744.67 L398.10 742.42 L402.94 742.42 L405.36 740.17 L407.78 740.17 L410.20 737.92 L412.62 735.67 L415.04 735.67 L417.46 733.41 L419.88 733.41 L422.30 731.16 L424.72 728.91 L427.14 728.91 L429.56 726.66 L431.98 724.41 L434.40 724.41 L436.82 722.16 L439.24 719.91 L441.66 717.66 L444.08 717.66 L446.50 715.41 L448.92 713.16 L451.34 710.90 L453.76 708.65 L456.18 706.40 L458.60 706.40 L461.02 704.15 L463.44 701.90 L465.86 699.65 L468.28 697.40 L470.70 697.40 L473.12 695.15 L475.54 692.90 L477.96 690.64 L480.38 690.64 L482.80 688.39 L485.22 686.14 L487.64 683.89 L490.06 683.89 L492.48 681.64 L494.90 679.39 L497.32 677.14 L499.74 677.14 L502.16 674.89 L504.58 672.64 L507.00 672.64 L509.42 670.39 L511.84 668.13 L514.26 668.13 L516.68 665.88 L519.10 665.88 L521.52 663.63 L523.94 661.38 L526.36 661.38 L528.78 659.13 L531.20 659.13 L533.62 656.88 L536.04 656.88 L538.46 654.63 L540.88 654.63 L543.30 652.38 L545.72 652.38 L548.14 650.13 L550.56 650.13 L552.98 647.88 L557.82 647.88 L560.24 645.62 L567.50 645.62 L569.92 643.37 L606.22 643.37 L608.64 645.62 L615.90 645.62 L618.32 647.88 L623.16 647.88 L625.58 650.13 L630.42 650.13 L632.84 652.38 L635.26 652.38 L637.68 654.63 L640.10 654.63 L642.52 656.88 L644.94 656.88 L647.36 659.13 L649.78 659.13 L652.20 661.38 L654.62 661.38 L657.04 663.63 L659.46 663.63 L661.88 665.88 L664.30 668.13 L666.72 668.13 L669.14 670.39 L671.56 672.64 L673.98 672.64 L676.40 674.89 L678.82 677.14 L681.24 677.14 L683.66 679.39 L686.08 681.64 L688.50 683.89 L690.92 683.89 L693.34 686.14 L695.76 688.39 L698.18 690.64 L700.60 690.64 L703.02 692.90 L705.44 695.15 L707.86 697.40 L710.28 699.65 L712.70 701.90 L715.12 701.90 L717.54 704.15 L719.96 706.40 L722.38 708.65 L724.80 708.65 L727.22 710.90 L729.64 713.16 L732.06 715.41 L734.48 715.41 L736.90 717.66 L739.32 719.91 L741.74 719.91 L744.16 722.16 L746.58 724.41 L749.00 726.66 L751.42 726.66 L753.84 728.91 L756.26 728.91 L758.68 731.16 L761.10 733.41 L763.52 733.41 L765.94 735.67 L768.36 735.67 L770.78 737.92 L773.20 740.17 L775.62 740.17 L778.04 742.42 L782.88 742.42 L785.30 744.67 L787.72 744.67 L790.14 746.92 L792.56 746.92 L794.98 749.17 L799.82 749.17 L802.24 751.42 L809.50 751.42 L811.92 753.67 L843.38 753.67 L845.80 751.42 L855.48 751.42 L857.90 749.17 L862.74 749.17 L865.16 746.92 L867.58 746.92 L870.00 744.67 L874.84 744.67 L877.26 742.42 L879.68 742.42 L882.10 740.17 L884.52 740.17 L886.94 737.92 L889.36 737.92 L891.78 735.67 L894.20 735.67 L896.62 733.41 L899.04 731.16 L901.46 731.16 L903.88 728.91 L906.30 728.91 L908.72 726.66 L911.14 724.41 L913.56 724.41 L915.98 722.16 L918.40 719.91 L920.82 717.66 L923.24 717.66 L925.66 715.41 L928.08 713.16 L930.50 713.16 L932.92 710.90 L935.34 708.65 L937.76 706.40 L940.18 706.40 L942.60 704.15 L945.02 701.90 L947.44 699.65 L949.86 697.40 L952.28 697.40 L954.70 695.15 L957.12 692.90 L959.54 690.64 L961.96 690.64 L964.38 688.39 L966.80 686.14 L969.22 683.89 L971.64 683.89 L974.06 681.64 L976.48 679.39 L978.90 677.14 L981.32 677.14 L983.74 674.89 L986.16 672.64 L988.58 672.64 L991.00 670.39 L993.42 668.13 L995.84 668.13 L998.26 665.88 L1000.68 663.63 L1003.10 663.63 L1005.52 661.38 L1007.94 661.38 L1010.36 659.13 L1012.78 656.88 L1015.20 656.88 L1017.62 654.63 L1022.46 654.63 L1024.88 652.38 L1027.30 652.38 L1029.72 650.13 L1034.56 650.13 L1036.98 647.88 L1041.82 647.88 L1044.24 645.62 L1053.92 645.62 L1056.34 643.37 L1085.38 643.37 L1087.80 645.62 L1095.06 645.62 L1097.48 647.88 L1104.74 647.88 L1107.16 650.13 L1109.58 650.13 L1112.00 652.38 L1116.84 652.38 L1119.26 654.63 L1121.68 654.63 L1124.10 656.88 L1126.52 656.88 L1128.94 659.13 L1131.36 659.13 L1133.78 661.38 L1136.20 663.63 L1138.62 663.63 L1141.04 665.88 L1143.46 665.88 L1145.88 668.13 L1148.30 670.39 L1150.72 670.39 L1153.14 672.64 L1155.56 674.89 L1157.98 674.89 L1160.40 677.14 L1162.82 679.39 L1165.24 679.39 L1167.66 681.64 L1170.08 683.89 L1172.50 686.14 L1174.92 686.14 L1177.34 688.39 L1179.76 690.64 L1182.18 692.90 L1184.60 695.15 L1187.02 695.15 L1189.44 697.40 L1191.86 699.65 L1194.28 701.90 L1196.70 701.90 L1199.12 704.15 L1201.54 706.40 L1203.96 708.65 L1206.38 708.65 L1208.80 710.90 L1211.22 713.16 L1213.64 715.41 L1216.06 715.41 L1218.48 717.66 L1220.90 719.91 L1223.32 719.91 L1225.74 722.16 L1228.16 724.41 L1230.58 724.41 L1233.00 726.66 L1235.42 728.91 L1237.84 728.91 L1240.26 731.16 L1242.68 733.41 L1245.10 733.41 L1247.52 735.67 L1249.94 735.67 L1252.36 737.92 L1254.78 737.92 L1257.20 740.17 L1259.62 740.17 L1262.04 742.42 L1264.46 742.42 L1266.88 744.67 L1269.30 744.67 L1271.72 746.92 L1276.56 746.92 L1278.98 749.17 L1286.24 749.17 L1288.66 751.42 L1332.22 751.42 L1334.64 749.17 L1341.90 749.17 L1344.32 746.92 L1349.16 746.92 L1351.58 744.67 L1356.42 744.67 L1358.84 742.42 L1361.26 742.42 L1363.68 740.17 L1366.10 740.17 L1368.52 737.92 L1370.94 737.92 L1373.36 735.67 L1375.78 733.41 L1378.20 733.41 L1380.62 731.16 L1383.04 731.16 L1385.46 728.91 L1387.88 726.66 L1390.30 726.66 L1392.72 724.41 L1395.14 722.16 L1397.56 719.91 L1399.98 719.91 L1402.40 717.66 L1404.82 715.41 L1407.24 715.41 L1409.66 713.16 L1412.08 710.90 L1414.50 708.65 L1416.92 708.65 L1419.34 706.40 L1421.76 704.15 L1424.18 704.15 L1426.60 701.90 L1429.02 699.65 L1431.44 697.40 L1433.86 697.40 L1436.28 695.15 L1438.70 692.90 L1441.12 692.90 L1443.54 690.64 L1445.96 688.39 L1448.38 688.39 L1450.80 686.14 L1453.22 683.89 L1455.64 681.64 L1458.06 681.64 L1460.48 679.39 L1462.90 677.14 L1465.32 677.14 L1467.74 674.89 L1470.16 672.64 L1472.58 672.64 L1475.00 670.39 L1477.42 668.13 L1479.84 668.13 L1482.26 665.88 L1484.68 663.63 L1487.10 663.63 L1489.52 661.38 L1491.94 661.38 L1494.36 659.13 L1496.78 656.88 L1499.20 656.88 L1501.62 654.63 L1504.04 654.63 L1506.46 652.38 L1508.88 652.38 L1511.30 650.13 L1513.72 650.13 L1516.14 647.88 L1520.98 647.88 L1523.40 645.62 L1530.66 645.62 L1533.08 643.37 L1571.80 643.37 L1574.22 645.62 L1581.48 645.62 L1583.90 647.88 L1588.74 647.88 L1591.16 650.13 L1596.00 650.13 L1598.42 652.38 L1600.84 652.38 L1603.26 654.63 L1605.68 654.63 L1608.10 656.88 L1610.52 659.13 L1612.94 659.13 L1615.36 661.38 L1617.78 663.63 L1620.20 663.63 L1622.62 665.88 L1625.04 668.13 L1627.46 668.13 L1629.88 670.39 L1632.30 672.64 L1634.72 674.89 L1637.14 674.89 L1639.56 677.14 L1641.98 679.39 L1644.40 679.39 L1646.82 681.64 L1649.24 683.89 L1651.66 686.14 L1654.08 686.14 L1656.50 688.39 L1658.92 690.64 L1661.34 690.64 L1663.76 692.90 L1666.18 695.15 L1668.60 697.40 L1671.02 697.40 L1673.44 699.65 L1675.86 701.90 L1678.28 701.90 L1680.70 704.15 L1683.12 706.40 L1685.54 706.40 L1687.96 708.65 L1690.38 710.90 L1692.80 713.16 L1695.22 713.16 L1697.64 715.41 L1700.06 717.66 L1702.48 717.66 L1704.90 719.91 L1707.32 722.16 L1709.74 722.16 L1712.16 724.41 L1714.58 726.66 L1717.00 726.66 L1719.42 728.91 L1721.84 731.16 L1724.26 731.16 L1726.68 733.41 L1729.10 735.67 L1731.52 735.67 L1733.94 737.92 L1736.36 737.92 L1738.78 740.17 L1741.20 740.17 L1743.62 742.42 L1746.04 742.42 L1748.46 744.67 L1750.88 744.67"/>
</g>
<rect x="87.5" y="17.5" width="1642.80" height="281.40" fill="none" stroke="#000" stroke-width="3.0"/>
<rect x="83.5" y="544.5" width="1664.80" height="310.50" fill="none" stroke="#000" stroke-width="3.0"/>
<rect x="1480.5" y="20.8" width="244.79999999999995" height="80.0" fill="#fff" stroke="#000" stroke-width="2.8"/>
<line x1="1499.7" y1="41.5" x2="1599.1" y2="41.5" stroke="#ff0000" stroke-width="2.2"/>
<line x1="1499.7" y1="77.8" x2="1599.1" y2="77.8" stroke="#000" stroke-width="2.2"/>
<text transform="translate(1611.60 50.80) scale(1.155 1)" text-anchor="start" font-family='"Liberation Sans", Arial, sans-serif' font-size="23.4" font-weight="normal">Phase A</text>
<text transform="translate(1611.60 88.00) scale(1.155 1)" text-anchor="start" font-family='"Liberation Sans", Arial, sans-serif' font-size="23.4" font-weight="normal">Phase B</text>
<rect x="1495.8" y="551.3" width="247.0" height="120.40000000000009" fill="#fff" stroke="#000" stroke-width="2.8"/>
<line x1="1515" y1="573.5" x2="1615.8" y2="573.5" stroke="#ff0000" stroke-width="2.2"/>
<line x1="1515" y1="611.5" x2="1615.8" y2="611.5" stroke="#000" stroke-width="2.2"/>
<line x1="1515" y1="647.9" x2="1615.8" y2="647.9" stroke="#0000ff" stroke-width="2.2"/>
<text transform="translate(1626.40 584.10) scale(1.09 1)" text-anchor="start" font-family='"Liberation Sans", Arial, sans-serif' font-size="25.2" font-weight="normal">Phase A</text>
<text transform="translate(1626.40 621.80) scale(1.09 1)" text-anchor="start" font-family='"Liberation Sans", Arial, sans-serif' font-size="25.2" font-weight="normal">Phase B</text>
<text transform="translate(1626.40 658.00) scale(1.09 1)" text-anchor="start" font-family='"Liberation Sans", Arial, sans-serif' font-size="25.2" font-weight="normal">Phase C</text>
<text transform="translate(87.50 332.20) scale(1.19 1)" text-anchor="middle" font-family='"Liberation Sans", Arial, sans-serif' font-size="27" font-weight="normal">0.2</text>
<text transform="translate(360.00 332.20) scale(1.19 1)" text-anchor="middle" font-family='"Liberation Sans", Arial, sans-serif' font-size="27" font-weight="normal">0.3</text>
<text transform="translate(635.40 332.20) scale(1.19 1)" text-anchor="middle" font-family='"Liberation Sans", Arial, sans-serif' font-size="27" font-weight="normal">0.4</text>
<text transform="translate(907.70 332.20) scale(1.19 1)" text-anchor="middle" font-family='"Liberation Sans", Arial, sans-serif' font-size="27" font-weight="normal">0.5</text>
<text transform="translate(1182.80 332.20) scale(1.19 1)" text-anchor="middle" font-family='"Liberation Sans", Arial, sans-serif' font-size="27" font-weight="normal">0.6</text>
<text transform="translate(1455.40 332.20) scale(1.19 1)" text-anchor="middle" font-family='"Liberation Sans", Arial, sans-serif' font-size="27" font-weight="normal">0.7</text>
<text transform="translate(1730.30 332.20) scale(1.19 1)" text-anchor="middle" font-family='"Liberation Sans", Arial, sans-serif' font-size="27" font-weight="normal">0.8</text>
<text transform="translate(83.50 889.80) scale(1.19 1)" text-anchor="middle" font-family='"Liberation Sans", Arial, sans-serif' font-size="27" font-weight="normal">0.2</text>
<text transform="translate(359.60 889.80) scale(1.19 1)" text-anchor="middle" font-family='"Liberation Sans", Arial, sans-serif' font-size="27" font-weight="normal">0.3</text>
<text transform="translate(637.90 889.80) scale(1.19 1)" text-anchor="middle" font-family='"Liberation Sans", Arial, sans-serif' font-size="27" font-weight="normal">0.4</text>
<text transform="translate(916.20 889.80) scale(1.19 1)" text-anchor="middle" font-family='"Liberation Sans", Arial, sans-serif' font-size="27" font-weight="normal">0.5</text>
<text transform="translate(1191.80 889.80) scale(1.19 1)" text-anchor="middle" font-family='"Liberation Sans", Arial, sans-serif' font-size="27" font-weight="normal">0.6</text>
<text transform="translate(1470.20 889.80) scale(1.19 1)" text-anchor="middle" font-family='"Liberation Sans", Arial, sans-serif' font-size="27" font-weight="normal">0.7</text>
<text transform="translate(1748.30 889.80) scale(1.19 1)" text-anchor="middle" font-family='"Liberation Sans", Arial, sans-serif' font-size="27" font-weight="normal">0.8</text>
<text transform="translate(78.00 27.20) scale(1.19 1)" text-anchor="end" font-family='"Liberation Sans", Arial, sans-serif' font-size="27" font-weight="normal">4</text>
<text transform="translate(78.00 96.20) scale(1.19 1)" text-anchor="end" font-family='"Liberation Sans", Arial, sans-serif' font-size="27" font-weight="normal">2</text>
<text transform="translate(78.00 167.20) scale(1.19 1)" text-anchor="end" font-family='"Liberation Sans", Arial, sans-serif' font-size="27" font-weight="normal">0</text>
<text transform="translate(78.00 238.00) scale(1.19 1)" text-anchor="end" font-family='"Liberation Sans", Arial, sans-serif' font-size="27" font-weight="normal">-2</text>
<text transform="translate(78.00 308.60) scale(1.19 1)" text-anchor="end" font-family='"Liberation Sans", Arial, sans-serif' font-size="27" font-weight="normal">-4</text>
<text transform="translate(75.00 554.20) scale(1.19 1)" text-anchor="end" font-family='"Liberation Sans", Arial, sans-serif' font-size="27" font-weight="normal">2</text>
<text transform="translate(75.00 630.30) scale(1.19 1)" text-anchor="end" font-family='"Liberation Sans", Arial, sans-serif' font-size="27" font-weight="normal">1</text>
<text transform="translate(75.00 709.00) scale(1.19 1)" text-anchor="end" font-family='"Liberation Sans", Arial, sans-serif' font-size="27" font-weight="normal">0</text>
<text transform="translate(75.00 786.10) scale(1.19 1)" text-anchor="end" font-family='"Liberation Sans", Arial, sans-serif' font-size="27" font-weight="normal">-1</text>
<text transform="translate(75.00 864.70) scale(1.19 1)" text-anchor="end" font-family='"Liberation Sans", Arial, sans-serif' font-size="27" font-weight="normal">-2</text>
<rect x="58" y="627.4" width="6.9" height="3" fill="#fff"/><rect x="68.1" y="627.4" width="7.2" height="3" fill="#fff"/>
<rect x="58" y="783.4" width="6.9" height="3" fill="#fff"/><rect x="68.1" y="783.4" width="7.2" height="3" fill="#fff"/>
<text transform="translate(903.30 368.20) scale(1.13 1)" text-anchor="middle" font-family='"Liberation Serif", "Times New Roman", serif' font-size="22" font-weight="bold">Time (Sec.)</text>
<text transform="translate(914.00 922.00) scale(1.1 1)" text-anchor="middle" font-family='"Liberation Serif", "Times New Roman", serif' font-size="23" font-weight="bold">Time (Sec.)</text>
<text transform="translate(24.6 159.05) scale(1.13 1) rotate(-90)" text-anchor="middle" font-family='"Liberation Serif", "Times New Roman", serif' font-size="22" font-weight="bold">V (pu)</text>
<text transform="translate(20.6 701.1) scale(1.10 1) rotate(-90)" text-anchor="middle" font-family='"Liberation Serif", "Times New Roman", serif' font-size="23.7" font-weight="bold">V (pu)</text>
<text x="909.0" y="458.8" text-anchor="middle" font-family='"Liberation Serif", "Times New Roman", serif' font-size="41.8">(a) Separated phase voltage at HV side</text>
<text x="916.3" y="1003.2" text-anchor="middle" font-family='"Liberation Serif", "Times New Roman", serif' font-size="42">(b) Separated phase voltage of phases at LV side</text>
</svg>
</body></html>
